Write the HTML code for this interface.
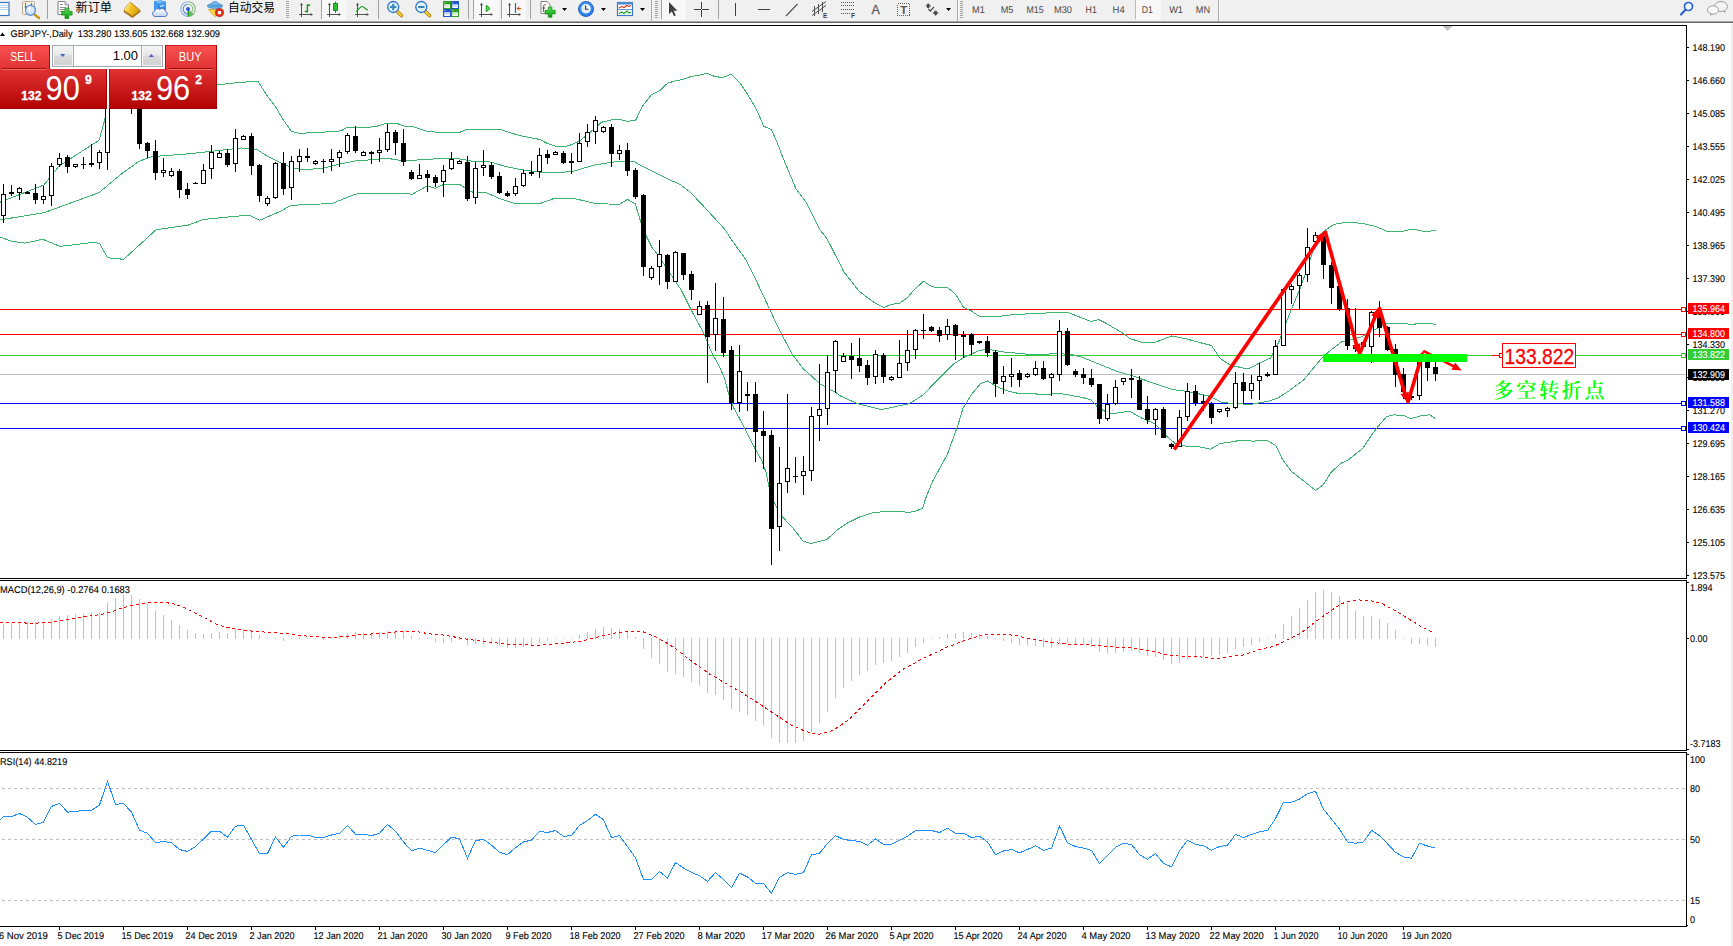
<!DOCTYPE html><html><head><meta charset="utf-8"><title>GBPJPY-,Daily</title>
<style>
html,body{margin:0;padding:0;background:#fff;overflow:hidden}
body{width:1733px;height:946px;position:relative;font-family:"Liberation Sans","Noto Sans CJK SC",sans-serif}
svg{position:absolute;left:0;top:0;display:block}
.ax{font-family:"Liberation Sans",sans-serif;font-size:9.85px;fill:#000;stroke:#000;stroke-width:0.1px;text-rendering:geometricPrecision}
.axw{font-family:"Liberation Sans",sans-serif;font-size:9.85px;fill:#fff;stroke:#fff;stroke-width:0.1px;text-rendering:geometricPrecision}
.tf{font-family:"Liberation Sans",sans-serif;font-size:9.85px;fill:#484848;text-rendering:geometricPrecision}
.cn{font-family:"Liberation Sans","Noto Sans CJK SC",sans-serif;font-size:12px;fill:#000}
</style></head><body>
<svg width="1733" height="946" viewBox="0 0 1733 946">
<rect x="0" y="0" width="1733" height="946" fill="#fff"/>
<rect x="0" y="0" width="1733" height="21" fill="#f0f0f0"/>
<rect x="0" y="21" width="1733" height="1" fill="#a4a4a4"/>
<rect x="0" y="22" width="1733" height="1" fill="#686868"/>
<rect x="1731" y="23" width="2" height="923" fill="#f0f0f0"/>
<g shape-rendering="crispEdges">
<rect x="0" y="25" width="1687" height="1" fill="#000"/>
<rect x="1686" y="25" width="1" height="554" fill="#000"/>
<rect x="0" y="578" width="1687" height="1" fill="#000"/>
<rect x="0" y="580" width="1687" height="1" fill="#000"/>
<rect x="1686" y="580" width="1" height="171" fill="#000"/>
<rect x="0" y="750" width="1687" height="1" fill="#000"/>
<rect x="0" y="752" width="1687" height="1" fill="#000"/>
<rect x="1686" y="752" width="1" height="175" fill="#000"/>
<rect x="0" y="926" width="1687" height="1" fill="#000"/>
<rect x="0" y="374" width="1686" height="1" fill="#c0c0c0"/>
<rect x="0" y="309" width="1686" height="1" fill="#ff0000"/>
<rect x="0" y="334" width="1686" height="1" fill="#ff0000"/>
<rect x="0" y="355" width="1686" height="1" fill="#32cd32"/>
<rect x="0" y="403" width="1686" height="1" fill="#0000ff"/>
<rect x="0" y="428" width="1686" height="1" fill="#0000ff"/>
</g>
<polyline points="0.0,202.2 43.8,185.1 59.0,166.1 91.3,145.2 99.0,140.4 104.6,120.4 107.0,108.0 115.0,80.0 140.0,70.0 217.0,85.0 239.0,82.4 258.0,81.4 263.5,90.0 266.5,95.0 275.8,107.1 282.0,118.0 291.3,131.2 299.1,133.3 319.0,132.4 340.7,130.9 346.8,127.7 374.5,126.9 387.5,123.1 396.2,123.1 404.8,126.4 413.5,126.9 427.4,131.6 443.0,132.4 460.3,132.1 466.4,129.5 486.3,129.1 500.2,129.5 519.3,135.5 540.1,139.5 547.0,143.3 555.7,146.3 566.1,146.3 570.4,145.1 579.1,141.3 589.5,132.9 601.6,122.2 615.5,119.1 620.0,119.4 627.6,121.5 635.7,120.1 642.7,105.8 651.4,94.8 659.5,90.9 667.7,83.1 675.8,80.8 684.0,79.1 690.9,76.5 700.2,75.0 707.2,73.3 714.8,76.5 722.9,77.6 731.0,74.2 739.8,82.6 747.9,94.8 753.7,104.7 759.0,115.1 763.6,126.2 771.2,129.4 777.0,141.9 782.0,155.5 795.8,188.4 806.2,202.3 820.1,230.0 827.0,238.7 837.4,259.1 840.0,264.0 843.5,271.5 850.5,280.2 858.6,290.7 866.7,297.1 874.9,302.9 884.0,307.6 891.2,304.3 899.3,303.3 907.4,297.7 914.4,289.5 923.5,281.2 931.3,286.4 936.5,287.4 947.0,287.4 952.2,291.3 956.3,295.3 963.3,307.0 971.4,311.0 979.5,316.5 998.1,316.5 1014.4,314.5 1056.8,312.5 1067.2,312.2 1079.3,316.9 1091.4,321.6 1098.4,319.5 1107.0,323.8 1124.4,334.2 1130.0,338.6 1143.9,342.9 1156.0,342.0 1171.6,336.0 1187.2,339.1 1199.4,342.5 1211.5,345.5 1220.2,358.5 1230.6,365.4 1247.9,368.9 1260.0,362.8 1270.5,358.0 1279.3,341.0 1287.2,319.6 1299.4,290.2 1306.3,271.1 1316.7,239.9 1323.6,231.2 1334.0,224.3 1347.9,222.0 1361.8,223.4 1375.7,226.4 1387.8,231.7 1403.4,231.2 1412.1,229.1 1425.9,231.7 1435.5,230.3" fill="none" stroke="#3cb371" stroke-width="1" shape-rendering="crispEdges" />
<polyline points="0.0,219.9 43.8,212.7 98.9,192.7 121.7,173.7 138.9,161.3 152.2,156.6 190.2,153.7 241.6,148.0 256.8,149.4 266.3,155.6 283.4,164.2 293.9,168.5 306.0,169.7 323.3,168.1 339.0,164.2 354.6,161.0 370.2,159.8 387.5,158.4 404.8,161.0 423.9,159.5 444.7,158.4 460.3,159.0 470.7,161.0 489.8,161.9 505.4,166.4 522.8,169.9 543.6,172.5 560.0,172.5 573.9,171.1 594.7,165.0 612.0,162.1 632.8,161.0 646.7,168.5 667.5,178.9 679.6,184.1 690.0,191.9 703.9,206.6 724.7,229.2 731.7,240.0 745.5,259.1 755.9,279.9 768.1,305.9 778.5,328.4 792.4,354.4 802.8,368.3 820.1,383.9 837.4,393.5 840.0,395.8 857.3,403.6 881.6,409.6 909.4,403.6 923.2,394.9 937.1,380.2 952.7,364.6 964.8,356.8 978.7,350.7 987.4,349.3 1003.0,351.9 1030.7,354.5 1056.8,353.8 1070.6,354.2 1082.8,357.6 1100.1,364.6 1117.4,371.5 1130.0,375.0 1147.3,381.0 1173.3,389.7 1187.2,391.4 1208.0,395.8 1221.9,402.4 1234.0,403.6 1251.4,404.4 1268.7,401.0 1277.4,398.4 1289.5,390.6 1303.4,380.2 1320.7,359.4 1331.1,349.8 1341.5,342.0 1360.6,337.2 1372.8,330.7 1386.6,323.3 1407.4,323.5 1409.5,324.9 1414.5,324.9 1416.0,323.5 1431.5,323.5 1435.5,324.9" fill="none" stroke="#3cb371" stroke-width="1" shape-rendering="crispEdges" />
<polyline points="0.0,237.0 11.4,241.2 24.7,243.1 42.8,239.3 59.9,246.4 95.1,242.2 99.9,244.1 107.5,257.8 123.7,259.3 156.0,229.8 188.3,225.1 203.5,219.4 249.2,215.0 259.7,220.3 280.0,211.5 291.3,205.3 332.0,203.5 354.6,194.5 359.8,193.6 408.3,193.6 411.8,194.5 427.4,185.8 435.2,188.4 443.9,184.4 459.5,184.4 470.7,191.9 486.3,192.8 500.2,198.8 514.1,203.5 540.1,203.5 554.0,198.5 575.6,198.8 594.7,203.5 619.0,204.4 627.6,199.4 635.4,204.0 640.6,221.4 646.7,237.0 651.9,247.4 657.1,253.9 667.5,269.5 681.4,290.3 691.8,311.1 703.9,333.6 710.9,351.0 719.5,366.6 724.7,378.7 729.1,395.6 733.4,407.3 743.8,426.4 752.5,443.8 762.0,461.1 766.3,473.2 768.9,487.1 774.3,503.0 782.0,516.5 792.0,527.0 803.0,541.0 811.2,543.6 827.2,539.3 837.2,530.0 847.4,523.0 859.5,517.0 875.1,512.1 902.9,511.6 908.1,512.6 915.9,511.2 922.8,508.1 925.4,499.1 932.4,481.7 947.5,454.0 957.9,425.3 963.1,407.9 971.8,394.0 980.5,383.6 987.4,381.0 996.1,386.2 1006.5,390.6 1018.6,393.5 1030.7,393.2 1042.9,394.9 1058.5,393.2 1082.8,397.5 1091.4,400.1 1098.4,407.9 1110.5,414.0 1127.8,411.4 1130.0,411.4 1142.1,418.3 1154.3,423.5 1168.1,437.4 1175.1,443.5 1185.5,446.1 1199.4,446.9 1210.6,449.2 1220.2,443.5 1230.0,442.2 1239.3,440.5 1247.4,440.7 1254.4,441.3 1256.7,440.5 1267.2,440.5 1275.9,445.5 1282.3,459.1 1291.6,471.5 1303.3,480.6 1315.7,490.5 1323.6,484.3 1330.6,473.0 1340.5,463.4 1347.4,460.6 1354.4,455.0 1362.6,448.6 1369.5,438.1 1376.2,428.7 1386.6,416.6 1393.6,414.8 1404.0,415.7 1410.9,418.7 1421.3,415.7 1430.0,414.8 1435.1,418.5" fill="none" stroke="#3cb371" stroke-width="1" shape-rendering="crispEdges" />
<g shape-rendering="crispEdges">
<rect x="3" y="184" width="1" height="39" fill="#000"/>
<rect x="1" y="194" width="5" height="22" fill="#000"/>
<rect x="2" y="195" width="3" height="20" fill="#fff"/>
<rect x="11" y="185" width="1" height="11" fill="#000"/>
<rect x="9" y="192" width="5" height="2" fill="#000"/>
<rect x="19" y="187" width="1" height="13" fill="#000"/>
<rect x="17" y="188" width="5" height="5" fill="#000"/>
<rect x="18" y="189" width="3" height="3" fill="#fff"/>
<rect x="27" y="191" width="1" height="3" fill="#000"/>
<rect x="25" y="192" width="5" height="2" fill="#000"/>
<rect x="35" y="184" width="1" height="20" fill="#000"/>
<rect x="33" y="193" width="5" height="7" fill="#000"/>
<rect x="43" y="186" width="1" height="18" fill="#000"/>
<rect x="41" y="196" width="5" height="4" fill="#000"/>
<rect x="42" y="197" width="3" height="2" fill="#fff"/>
<rect x="51" y="163" width="1" height="43" fill="#000"/>
<rect x="49" y="166" width="5" height="30" fill="#000"/>
<rect x="50" y="167" width="3" height="28" fill="#fff"/>
<rect x="59" y="153" width="1" height="14" fill="#000"/>
<rect x="57" y="158" width="5" height="7" fill="#000"/>
<rect x="58" y="159" width="3" height="5" fill="#fff"/>
<rect x="67" y="155" width="1" height="18" fill="#000"/>
<rect x="65" y="157" width="5" height="10" fill="#000"/>
<rect x="75" y="164" width="1" height="4" fill="#000"/>
<rect x="73" y="164" width="5" height="3" fill="#000"/>
<rect x="74" y="165" width="3" height="1" fill="#fff"/>
<rect x="83" y="157" width="1" height="12" fill="#000"/>
<rect x="81" y="164" width="5" height="1" fill="#000"/>
<rect x="91" y="144" width="1" height="23" fill="#000"/>
<rect x="89" y="163" width="5" height="2" fill="#000"/>
<rect x="99" y="150" width="1" height="19" fill="#000"/>
<rect x="97" y="152" width="5" height="11" fill="#000"/>
<rect x="98" y="153" width="3" height="9" fill="#fff"/>
<rect x="107" y="95" width="1" height="75" fill="#000"/>
<rect x="105" y="100" width="5" height="53" fill="#000"/>
<rect x="106" y="101" width="3" height="51" fill="#fff"/>
<rect x="115" y="55" width="1" height="49" fill="#000"/>
<rect x="113" y="60" width="5" height="40" fill="#000"/>
<rect x="114" y="61" width="3" height="38" fill="#fff"/>
<rect x="123" y="50" width="1" height="54" fill="#000"/>
<rect x="121" y="62" width="5" height="28" fill="#000"/>
<rect x="131" y="60" width="1" height="54" fill="#000"/>
<rect x="129" y="75" width="5" height="25" fill="#000"/>
<rect x="139" y="90" width="1" height="59" fill="#000"/>
<rect x="137" y="95" width="5" height="49" fill="#000"/>
<rect x="147" y="142" width="1" height="16" fill="#000"/>
<rect x="145" y="143" width="5" height="8" fill="#000"/>
<rect x="155" y="140" width="1" height="40" fill="#000"/>
<rect x="153" y="151" width="5" height="22" fill="#000"/>
<rect x="163" y="158" width="1" height="19" fill="#000"/>
<rect x="161" y="170" width="5" height="3" fill="#000"/>
<rect x="162" y="171" width="3" height="1" fill="#fff"/>
<rect x="171" y="168" width="1" height="9" fill="#000"/>
<rect x="169" y="171" width="5" height="5" fill="#000"/>
<rect x="170" y="172" width="3" height="3" fill="#fff"/>
<rect x="179" y="169" width="1" height="29" fill="#000"/>
<rect x="177" y="171" width="5" height="19" fill="#000"/>
<rect x="187" y="183" width="1" height="16" fill="#000"/>
<rect x="185" y="189" width="5" height="6" fill="#000"/>
<rect x="195" y="182" width="1" height="2" fill="#000"/>
<rect x="193" y="183" width="5" height="1" fill="#000"/>
<rect x="203" y="164" width="1" height="20" fill="#000"/>
<rect x="201" y="170" width="5" height="14" fill="#000"/>
<rect x="202" y="171" width="3" height="12" fill="#fff"/>
<rect x="211" y="145" width="1" height="34" fill="#000"/>
<rect x="209" y="152" width="5" height="17" fill="#000"/>
<rect x="210" y="153" width="3" height="15" fill="#fff"/>
<rect x="219" y="151" width="1" height="7" fill="#000"/>
<rect x="217" y="153" width="5" height="5" fill="#000"/>
<rect x="218" y="154" width="3" height="3" fill="#fff"/>
<rect x="227" y="149" width="1" height="18" fill="#000"/>
<rect x="225" y="153" width="5" height="12" fill="#000"/>
<rect x="235" y="129" width="1" height="43" fill="#000"/>
<rect x="233" y="138" width="5" height="26" fill="#000"/>
<rect x="234" y="139" width="3" height="24" fill="#fff"/>
<rect x="243" y="135" width="1" height="5" fill="#000"/>
<rect x="241" y="136" width="5" height="4" fill="#000"/>
<rect x="242" y="137" width="3" height="2" fill="#fff"/>
<rect x="251" y="133" width="1" height="42" fill="#000"/>
<rect x="249" y="136" width="5" height="30" fill="#000"/>
<rect x="259" y="164" width="1" height="38" fill="#000"/>
<rect x="257" y="165" width="5" height="31" fill="#000"/>
<rect x="267" y="196" width="1" height="10" fill="#000"/>
<rect x="265" y="198" width="5" height="6" fill="#000"/>
<rect x="266" y="199" width="3" height="4" fill="#fff"/>
<rect x="275" y="162" width="1" height="37" fill="#000"/>
<rect x="273" y="163" width="5" height="35" fill="#000"/>
<rect x="274" y="164" width="3" height="33" fill="#fff"/>
<rect x="283" y="152" width="1" height="43" fill="#000"/>
<rect x="281" y="163" width="5" height="26" fill="#000"/>
<rect x="291" y="156" width="1" height="44" fill="#000"/>
<rect x="289" y="161" width="5" height="27" fill="#000"/>
<rect x="290" y="162" width="3" height="25" fill="#fff"/>
<rect x="299" y="149" width="1" height="23" fill="#000"/>
<rect x="297" y="156" width="5" height="6" fill="#000"/>
<rect x="298" y="157" width="3" height="4" fill="#fff"/>
<rect x="307" y="148" width="1" height="14" fill="#000"/>
<rect x="305" y="156" width="5" height="2" fill="#000"/>
<rect x="315" y="160" width="1" height="5" fill="#000"/>
<rect x="313" y="161" width="5" height="3" fill="#000"/>
<rect x="314" y="162" width="3" height="1" fill="#fff"/>
<rect x="323" y="159" width="1" height="14" fill="#000"/>
<rect x="321" y="161" width="5" height="1" fill="#000"/>
<rect x="331" y="149" width="1" height="22" fill="#000"/>
<rect x="329" y="159" width="5" height="3" fill="#000"/>
<rect x="330" y="160" width="3" height="1" fill="#fff"/>
<rect x="339" y="150" width="1" height="17" fill="#000"/>
<rect x="337" y="152" width="5" height="6" fill="#000"/>
<rect x="338" y="153" width="3" height="4" fill="#fff"/>
<rect x="347" y="133" width="1" height="21" fill="#000"/>
<rect x="345" y="135" width="5" height="17" fill="#000"/>
<rect x="346" y="136" width="3" height="15" fill="#fff"/>
<rect x="355" y="126" width="1" height="27" fill="#000"/>
<rect x="353" y="136" width="5" height="15" fill="#000"/>
<rect x="363" y="151" width="1" height="5" fill="#000"/>
<rect x="361" y="152" width="5" height="4" fill="#000"/>
<rect x="362" y="153" width="3" height="2" fill="#fff"/>
<rect x="371" y="151" width="1" height="13" fill="#000"/>
<rect x="369" y="152" width="5" height="2" fill="#000"/>
<rect x="379" y="138" width="1" height="24" fill="#000"/>
<rect x="377" y="150" width="5" height="3" fill="#000"/>
<rect x="378" y="151" width="3" height="1" fill="#fff"/>
<rect x="387" y="124" width="1" height="28" fill="#000"/>
<rect x="385" y="132" width="5" height="18" fill="#000"/>
<rect x="386" y="133" width="3" height="16" fill="#fff"/>
<rect x="395" y="130" width="1" height="25" fill="#000"/>
<rect x="393" y="132" width="5" height="11" fill="#000"/>
<rect x="403" y="129" width="1" height="37" fill="#000"/>
<rect x="401" y="143" width="5" height="19" fill="#000"/>
<rect x="411" y="170" width="1" height="10" fill="#000"/>
<rect x="409" y="172" width="5" height="7" fill="#000"/>
<rect x="419" y="164" width="1" height="15" fill="#000"/>
<rect x="417" y="175" width="5" height="4" fill="#000"/>
<rect x="418" y="176" width="3" height="2" fill="#fff"/>
<rect x="427" y="170" width="1" height="22" fill="#000"/>
<rect x="425" y="174" width="5" height="4" fill="#000"/>
<rect x="435" y="175" width="1" height="12" fill="#000"/>
<rect x="433" y="177" width="5" height="6" fill="#000"/>
<rect x="443" y="165" width="1" height="32" fill="#000"/>
<rect x="441" y="170" width="5" height="12" fill="#000"/>
<rect x="442" y="171" width="3" height="10" fill="#fff"/>
<rect x="451" y="152" width="1" height="18" fill="#000"/>
<rect x="449" y="159" width="5" height="10" fill="#000"/>
<rect x="450" y="160" width="3" height="8" fill="#fff"/>
<rect x="459" y="160" width="1" height="4" fill="#000"/>
<rect x="457" y="161" width="5" height="3" fill="#000"/>
<rect x="458" y="162" width="3" height="1" fill="#fff"/>
<rect x="467" y="156" width="1" height="45" fill="#000"/>
<rect x="465" y="162" width="5" height="37" fill="#000"/>
<rect x="475" y="162" width="1" height="42" fill="#000"/>
<rect x="473" y="168" width="5" height="30" fill="#000"/>
<rect x="474" y="169" width="3" height="28" fill="#fff"/>
<rect x="483" y="150" width="1" height="26" fill="#000"/>
<rect x="481" y="165" width="5" height="3" fill="#000"/>
<rect x="482" y="166" width="3" height="1" fill="#fff"/>
<rect x="491" y="162" width="1" height="17" fill="#000"/>
<rect x="489" y="165" width="5" height="12" fill="#000"/>
<rect x="499" y="172" width="1" height="22" fill="#000"/>
<rect x="497" y="176" width="5" height="17" fill="#000"/>
<rect x="507" y="191" width="1" height="6" fill="#000"/>
<rect x="505" y="193" width="5" height="3" fill="#000"/>
<rect x="515" y="178" width="1" height="18" fill="#000"/>
<rect x="513" y="186" width="5" height="8" fill="#000"/>
<rect x="514" y="187" width="3" height="6" fill="#fff"/>
<rect x="523" y="170" width="1" height="17" fill="#000"/>
<rect x="521" y="173" width="5" height="13" fill="#000"/>
<rect x="522" y="174" width="3" height="11" fill="#fff"/>
<rect x="531" y="161" width="1" height="15" fill="#000"/>
<rect x="529" y="172" width="5" height="2" fill="#000"/>
<rect x="539" y="148" width="1" height="30" fill="#000"/>
<rect x="537" y="155" width="5" height="17" fill="#000"/>
<rect x="538" y="156" width="3" height="15" fill="#fff"/>
<rect x="547" y="150" width="1" height="14" fill="#000"/>
<rect x="545" y="154" width="5" height="4" fill="#000"/>
<rect x="555" y="151" width="1" height="4" fill="#000"/>
<rect x="553" y="152" width="5" height="3" fill="#000"/>
<rect x="554" y="153" width="3" height="1" fill="#fff"/>
<rect x="563" y="151" width="1" height="13" fill="#000"/>
<rect x="561" y="153" width="5" height="10" fill="#000"/>
<rect x="571" y="153" width="1" height="21" fill="#000"/>
<rect x="569" y="161" width="5" height="2" fill="#000"/>
<rect x="579" y="133" width="1" height="29" fill="#000"/>
<rect x="577" y="143" width="5" height="19" fill="#000"/>
<rect x="578" y="144" width="3" height="17" fill="#fff"/>
<rect x="587" y="124" width="1" height="23" fill="#000"/>
<rect x="585" y="132" width="5" height="10" fill="#000"/>
<rect x="586" y="133" width="3" height="8" fill="#fff"/>
<rect x="595" y="116" width="1" height="28" fill="#000"/>
<rect x="593" y="120" width="5" height="12" fill="#000"/>
<rect x="594" y="121" width="3" height="10" fill="#fff"/>
<rect x="603" y="126" width="1" height="7" fill="#000"/>
<rect x="601" y="127" width="5" height="5" fill="#000"/>
<rect x="602" y="128" width="3" height="3" fill="#fff"/>
<rect x="611" y="124" width="1" height="43" fill="#000"/>
<rect x="609" y="127" width="5" height="27" fill="#000"/>
<rect x="619" y="145" width="1" height="15" fill="#000"/>
<rect x="617" y="150" width="5" height="4" fill="#000"/>
<rect x="618" y="151" width="3" height="2" fill="#fff"/>
<rect x="627" y="143" width="1" height="33" fill="#000"/>
<rect x="625" y="150" width="5" height="21" fill="#000"/>
<rect x="635" y="168" width="1" height="31" fill="#000"/>
<rect x="633" y="170" width="5" height="27" fill="#000"/>
<rect x="643" y="194" width="1" height="82" fill="#000"/>
<rect x="641" y="195" width="5" height="72" fill="#000"/>
<rect x="651" y="266" width="1" height="14" fill="#000"/>
<rect x="649" y="268" width="5" height="10" fill="#000"/>
<rect x="650" y="269" width="3" height="8" fill="#fff"/>
<rect x="659" y="240" width="1" height="45" fill="#000"/>
<rect x="657" y="254" width="5" height="13" fill="#000"/>
<rect x="658" y="255" width="3" height="11" fill="#fff"/>
<rect x="667" y="254" width="1" height="35" fill="#000"/>
<rect x="665" y="255" width="5" height="27" fill="#000"/>
<rect x="675" y="251" width="1" height="31" fill="#000"/>
<rect x="673" y="252" width="5" height="30" fill="#000"/>
<rect x="674" y="253" width="3" height="28" fill="#fff"/>
<rect x="683" y="253" width="1" height="27" fill="#000"/>
<rect x="681" y="253" width="5" height="22" fill="#000"/>
<rect x="691" y="271" width="1" height="29" fill="#000"/>
<rect x="689" y="274" width="5" height="16" fill="#000"/>
<rect x="699" y="301" width="1" height="14" fill="#000"/>
<rect x="697" y="306" width="5" height="9" fill="#000"/>
<rect x="698" y="307" width="3" height="7" fill="#fff"/>
<rect x="707" y="301" width="1" height="82" fill="#000"/>
<rect x="705" y="305" width="5" height="32" fill="#000"/>
<rect x="715" y="283" width="1" height="68" fill="#000"/>
<rect x="713" y="318" width="5" height="17" fill="#000"/>
<rect x="714" y="319" width="3" height="15" fill="#fff"/>
<rect x="723" y="297" width="1" height="60" fill="#000"/>
<rect x="721" y="319" width="5" height="34" fill="#000"/>
<rect x="731" y="346" width="1" height="64" fill="#000"/>
<rect x="729" y="350" width="5" height="53" fill="#000"/>
<rect x="739" y="345" width="1" height="67" fill="#000"/>
<rect x="737" y="371" width="5" height="32" fill="#000"/>
<rect x="738" y="372" width="3" height="30" fill="#fff"/>
<rect x="747" y="382" width="1" height="29" fill="#000"/>
<rect x="745" y="394" width="5" height="2" fill="#000"/>
<rect x="755" y="382" width="1" height="80" fill="#000"/>
<rect x="753" y="394" width="5" height="38" fill="#000"/>
<rect x="763" y="411" width="1" height="58" fill="#000"/>
<rect x="761" y="431" width="5" height="5" fill="#000"/>
<rect x="771" y="430" width="1" height="135" fill="#000"/>
<rect x="769" y="435" width="5" height="94" fill="#000"/>
<rect x="779" y="447" width="1" height="104" fill="#000"/>
<rect x="777" y="483" width="5" height="44" fill="#000"/>
<rect x="778" y="484" width="3" height="42" fill="#fff"/>
<rect x="787" y="394" width="1" height="99" fill="#000"/>
<rect x="785" y="468" width="5" height="14" fill="#000"/>
<rect x="786" y="469" width="3" height="12" fill="#fff"/>
<rect x="795" y="457" width="1" height="26" fill="#000"/>
<rect x="793" y="476" width="5" height="1" fill="#000"/>
<rect x="803" y="456" width="1" height="39" fill="#000"/>
<rect x="801" y="471" width="5" height="5" fill="#000"/>
<rect x="802" y="472" width="3" height="3" fill="#fff"/>
<rect x="811" y="407" width="1" height="74" fill="#000"/>
<rect x="809" y="416" width="5" height="55" fill="#000"/>
<rect x="810" y="417" width="3" height="53" fill="#fff"/>
<rect x="819" y="364" width="1" height="77" fill="#000"/>
<rect x="817" y="409" width="5" height="7" fill="#000"/>
<rect x="818" y="410" width="3" height="5" fill="#fff"/>
<rect x="827" y="355" width="1" height="70" fill="#000"/>
<rect x="825" y="372" width="5" height="37" fill="#000"/>
<rect x="826" y="373" width="3" height="35" fill="#fff"/>
<rect x="835" y="340" width="1" height="53" fill="#000"/>
<rect x="833" y="341" width="5" height="30" fill="#000"/>
<rect x="834" y="342" width="3" height="28" fill="#fff"/>
<rect x="843" y="353" width="1" height="9" fill="#000"/>
<rect x="841" y="356" width="5" height="6" fill="#000"/>
<rect x="842" y="357" width="3" height="4" fill="#fff"/>
<rect x="851" y="343" width="1" height="36" fill="#000"/>
<rect x="849" y="356" width="5" height="4" fill="#000"/>
<rect x="859" y="338" width="1" height="34" fill="#000"/>
<rect x="857" y="358" width="5" height="8" fill="#000"/>
<rect x="867" y="360" width="1" height="25" fill="#000"/>
<rect x="865" y="365" width="5" height="13" fill="#000"/>
<rect x="875" y="350" width="1" height="34" fill="#000"/>
<rect x="873" y="354" width="5" height="23" fill="#000"/>
<rect x="874" y="355" width="3" height="21" fill="#fff"/>
<rect x="883" y="353" width="1" height="30" fill="#000"/>
<rect x="881" y="355" width="5" height="22" fill="#000"/>
<rect x="891" y="376" width="1" height="5" fill="#000"/>
<rect x="889" y="377" width="5" height="3" fill="#000"/>
<rect x="890" y="378" width="3" height="1" fill="#fff"/>
<rect x="899" y="340" width="1" height="38" fill="#000"/>
<rect x="897" y="363" width="5" height="15" fill="#000"/>
<rect x="898" y="364" width="3" height="13" fill="#fff"/>
<rect x="907" y="330" width="1" height="41" fill="#000"/>
<rect x="905" y="350" width="5" height="13" fill="#000"/>
<rect x="906" y="351" width="3" height="11" fill="#fff"/>
<rect x="915" y="329" width="1" height="30" fill="#000"/>
<rect x="913" y="330" width="5" height="20" fill="#000"/>
<rect x="914" y="331" width="3" height="18" fill="#fff"/>
<rect x="923" y="314" width="1" height="25" fill="#000"/>
<rect x="921" y="330" width="5" height="1" fill="#000"/>
<rect x="931" y="326" width="1" height="6" fill="#000"/>
<rect x="929" y="327" width="5" height="4" fill="#000"/>
<rect x="939" y="327" width="1" height="15" fill="#000"/>
<rect x="937" y="330" width="5" height="6" fill="#000"/>
<rect x="947" y="319" width="1" height="21" fill="#000"/>
<rect x="945" y="326" width="5" height="9" fill="#000"/>
<rect x="946" y="327" width="3" height="7" fill="#fff"/>
<rect x="955" y="324" width="1" height="36" fill="#000"/>
<rect x="953" y="325" width="5" height="11" fill="#000"/>
<rect x="963" y="331" width="1" height="27" fill="#000"/>
<rect x="961" y="335" width="5" height="2" fill="#000"/>
<rect x="971" y="333" width="1" height="22" fill="#000"/>
<rect x="969" y="334" width="5" height="11" fill="#000"/>
<rect x="979" y="341" width="1" height="3" fill="#000"/>
<rect x="977" y="341" width="5" height="2" fill="#000"/>
<rect x="987" y="336" width="1" height="21" fill="#000"/>
<rect x="985" y="341" width="5" height="12" fill="#000"/>
<rect x="995" y="350" width="1" height="47" fill="#000"/>
<rect x="993" y="352" width="5" height="32" fill="#000"/>
<rect x="1003" y="366" width="1" height="28" fill="#000"/>
<rect x="1001" y="376" width="5" height="6" fill="#000"/>
<rect x="1002" y="377" width="3" height="4" fill="#fff"/>
<rect x="1011" y="358" width="1" height="29" fill="#000"/>
<rect x="1009" y="374" width="5" height="3" fill="#000"/>
<rect x="1010" y="375" width="3" height="1" fill="#fff"/>
<rect x="1019" y="370" width="1" height="17" fill="#000"/>
<rect x="1017" y="373" width="5" height="7" fill="#000"/>
<rect x="1027" y="373" width="1" height="5" fill="#000"/>
<rect x="1025" y="374" width="5" height="3" fill="#000"/>
<rect x="1026" y="375" width="3" height="1" fill="#fff"/>
<rect x="1035" y="361" width="1" height="15" fill="#000"/>
<rect x="1033" y="368" width="5" height="7" fill="#000"/>
<rect x="1034" y="369" width="3" height="5" fill="#fff"/>
<rect x="1043" y="361" width="1" height="19" fill="#000"/>
<rect x="1041" y="368" width="5" height="11" fill="#000"/>
<rect x="1051" y="373" width="1" height="23" fill="#000"/>
<rect x="1049" y="374" width="5" height="4" fill="#000"/>
<rect x="1050" y="375" width="3" height="2" fill="#fff"/>
<rect x="1059" y="320" width="1" height="61" fill="#000"/>
<rect x="1057" y="331" width="5" height="44" fill="#000"/>
<rect x="1058" y="332" width="3" height="42" fill="#fff"/>
<rect x="1067" y="328" width="1" height="38" fill="#000"/>
<rect x="1065" y="331" width="5" height="34" fill="#000"/>
<rect x="1075" y="369" width="1" height="8" fill="#000"/>
<rect x="1073" y="371" width="5" height="4" fill="#000"/>
<rect x="1083" y="368" width="1" height="16" fill="#000"/>
<rect x="1081" y="374" width="5" height="4" fill="#000"/>
<rect x="1091" y="369" width="1" height="18" fill="#000"/>
<rect x="1089" y="378" width="5" height="7" fill="#000"/>
<rect x="1099" y="384" width="1" height="40" fill="#000"/>
<rect x="1097" y="384" width="5" height="35" fill="#000"/>
<rect x="1107" y="394" width="1" height="27" fill="#000"/>
<rect x="1105" y="404" width="5" height="15" fill="#000"/>
<rect x="1106" y="405" width="3" height="13" fill="#fff"/>
<rect x="1115" y="380" width="1" height="25" fill="#000"/>
<rect x="1113" y="387" width="5" height="17" fill="#000"/>
<rect x="1114" y="388" width="3" height="15" fill="#fff"/>
<rect x="1123" y="378" width="1" height="7" fill="#000"/>
<rect x="1121" y="378" width="5" height="4" fill="#000"/>
<rect x="1122" y="379" width="3" height="2" fill="#fff"/>
<rect x="1131" y="369" width="1" height="29" fill="#000"/>
<rect x="1129" y="378" width="5" height="2" fill="#000"/>
<rect x="1139" y="376" width="1" height="34" fill="#000"/>
<rect x="1137" y="380" width="5" height="30" fill="#000"/>
<rect x="1147" y="396" width="1" height="28" fill="#000"/>
<rect x="1145" y="409" width="5" height="11" fill="#000"/>
<rect x="1155" y="408" width="1" height="27" fill="#000"/>
<rect x="1153" y="409" width="5" height="11" fill="#000"/>
<rect x="1154" y="410" width="3" height="9" fill="#fff"/>
<rect x="1163" y="407" width="1" height="31" fill="#000"/>
<rect x="1161" y="409" width="5" height="29" fill="#000"/>
<rect x="1171" y="443" width="1" height="6" fill="#000"/>
<rect x="1169" y="444" width="5" height="3" fill="#000"/>
<rect x="1179" y="410" width="1" height="37" fill="#000"/>
<rect x="1177" y="417" width="5" height="30" fill="#000"/>
<rect x="1178" y="418" width="3" height="28" fill="#fff"/>
<rect x="1187" y="383" width="1" height="38" fill="#000"/>
<rect x="1185" y="391" width="5" height="26" fill="#000"/>
<rect x="1186" y="392" width="3" height="24" fill="#fff"/>
<rect x="1195" y="385" width="1" height="21" fill="#000"/>
<rect x="1193" y="391" width="5" height="12" fill="#000"/>
<rect x="1203" y="395" width="1" height="16" fill="#000"/>
<rect x="1201" y="401" width="5" height="3" fill="#000"/>
<rect x="1211" y="402" width="1" height="22" fill="#000"/>
<rect x="1209" y="404" width="5" height="14" fill="#000"/>
<rect x="1219" y="409" width="1" height="4" fill="#000"/>
<rect x="1217" y="409" width="5" height="3" fill="#000"/>
<rect x="1218" y="410" width="3" height="1" fill="#fff"/>
<rect x="1227" y="407" width="1" height="10" fill="#000"/>
<rect x="1225" y="408" width="5" height="3" fill="#000"/>
<rect x="1226" y="409" width="3" height="1" fill="#fff"/>
<rect x="1235" y="372" width="1" height="37" fill="#000"/>
<rect x="1233" y="383" width="5" height="25" fill="#000"/>
<rect x="1234" y="384" width="3" height="23" fill="#fff"/>
<rect x="1243" y="373" width="1" height="31" fill="#000"/>
<rect x="1241" y="382" width="5" height="9" fill="#000"/>
<rect x="1251" y="375" width="1" height="24" fill="#000"/>
<rect x="1249" y="383" width="5" height="8" fill="#000"/>
<rect x="1250" y="384" width="3" height="6" fill="#fff"/>
<rect x="1259" y="363" width="1" height="37" fill="#000"/>
<rect x="1257" y="376" width="5" height="5" fill="#000"/>
<rect x="1258" y="377" width="3" height="3" fill="#fff"/>
<rect x="1267" y="372" width="1" height="5" fill="#000"/>
<rect x="1265" y="374" width="5" height="2" fill="#000"/>
<rect x="1275" y="340" width="1" height="35" fill="#000"/>
<rect x="1273" y="346" width="5" height="29" fill="#000"/>
<rect x="1274" y="347" width="3" height="27" fill="#fff"/>
<rect x="1283" y="288" width="1" height="58" fill="#000"/>
<rect x="1281" y="289" width="5" height="57" fill="#000"/>
<rect x="1282" y="290" width="3" height="55" fill="#fff"/>
<rect x="1291" y="284" width="1" height="20" fill="#000"/>
<rect x="1289" y="286" width="5" height="4" fill="#000"/>
<rect x="1290" y="287" width="3" height="2" fill="#fff"/>
<rect x="1299" y="273" width="1" height="37" fill="#000"/>
<rect x="1297" y="275" width="5" height="11" fill="#000"/>
<rect x="1298" y="276" width="3" height="9" fill="#fff"/>
<rect x="1307" y="228" width="1" height="54" fill="#000"/>
<rect x="1305" y="247" width="5" height="28" fill="#000"/>
<rect x="1306" y="248" width="3" height="26" fill="#fff"/>
<rect x="1315" y="232" width="1" height="10" fill="#000"/>
<rect x="1313" y="235" width="5" height="7" fill="#000"/>
<rect x="1314" y="236" width="3" height="5" fill="#fff"/>
<rect x="1323" y="234" width="1" height="45" fill="#000"/>
<rect x="1321" y="236" width="5" height="29" fill="#000"/>
<rect x="1331" y="262" width="1" height="42" fill="#000"/>
<rect x="1329" y="265" width="5" height="23" fill="#000"/>
<rect x="1339" y="285" width="1" height="26" fill="#000"/>
<rect x="1337" y="286" width="5" height="23" fill="#000"/>
<rect x="1347" y="299" width="1" height="51" fill="#000"/>
<rect x="1345" y="308" width="5" height="38" fill="#000"/>
<rect x="1355" y="308" width="1" height="44" fill="#000"/>
<rect x="1353" y="345" width="5" height="4" fill="#000"/>
<rect x="1363" y="341" width="1" height="7" fill="#000"/>
<rect x="1361" y="342" width="5" height="5" fill="#000"/>
<rect x="1371" y="311" width="1" height="52" fill="#000"/>
<rect x="1369" y="312" width="5" height="35" fill="#000"/>
<rect x="1370" y="313" width="3" height="33" fill="#fff"/>
<rect x="1379" y="301" width="1" height="36" fill="#000"/>
<rect x="1377" y="314" width="5" height="14" fill="#000"/>
<rect x="1387" y="326" width="1" height="25" fill="#000"/>
<rect x="1385" y="327" width="5" height="23" fill="#000"/>
<rect x="1395" y="344" width="1" height="43" fill="#000"/>
<rect x="1393" y="349" width="5" height="26" fill="#000"/>
<rect x="1403" y="368" width="1" height="31" fill="#000"/>
<rect x="1401" y="374" width="5" height="18" fill="#000"/>
<rect x="1411" y="395" width="1" height="5" fill="#000"/>
<rect x="1409" y="396" width="5" height="2" fill="#000"/>
<rect x="1419" y="358" width="1" height="42" fill="#000"/>
<rect x="1417" y="358" width="5" height="38" fill="#000"/>
<rect x="1418" y="359" width="3" height="36" fill="#fff"/>
<rect x="1427" y="353" width="1" height="28" fill="#000"/>
<rect x="1425" y="358" width="5" height="10" fill="#000"/>
<rect x="1435" y="356" width="1" height="25" fill="#000"/>
<rect x="1433" y="367" width="5" height="7" fill="#000"/>
</g>
<line x1="1174.2" y1="449.5" x2="1322.2" y2="235.1" stroke="#ff0000" stroke-width="3.7"/>
<polygon points="1325.0,231.0 1322.6,242.1 1315.5,237.2" fill="#ff0000"/>
<line x1="1325.0" y1="231.0" x2="1357.9" y2="349.8" stroke="#ff0000" stroke-width="3.7"/>
<polygon points="1359.2,354.6 1352.3,345.6 1360.5,343.3" fill="#ff0000"/>
<line x1="1359.2" y1="354.6" x2="1377.2" y2="311.9" stroke="#ff0000" stroke-width="3.7"/>
<polygon points="1379.1,307.3 1379.0,318.6 1371.1,315.3" fill="#ff0000"/>
<line x1="1379.1" y1="307.3" x2="1406.3" y2="398.2" stroke="#ff0000" stroke-width="3.7"/>
<polygon points="1407.7,403.0 1400.6,394.2 1408.8,391.7" fill="#ff0000"/>
<line x1="1407.7" y1="403.0" x2="1422.4" y2="353.7" stroke="#ff0000" stroke-width="3.7"/>
<polygon points="1423.3,350.8 1424.3,357.4 1418.9,355.7" fill="#ff0000"/>
<line x1="1423.3" y1="350.8" x2="1457.3" y2="368.1" stroke="#ff0000" stroke-width="2.6"/>
<polygon points="1461.8,370.4 1451.5,369.7 1455.1,362.5" fill="#ff0000"/>
<rect x="1323" y="354" width="144" height="8" fill="#00ff00" shape-rendering="crispEdges"/>
<g shape-rendering="crispEdges"><rect x="1492" y="355" width="8" height="1" fill="#ff0000"/><rect x="1499.5" y="353.5" width="3" height="4" fill="#fff" stroke="#ff0000" stroke-width="1"/>
<rect x="1502.5" y="343.5" width="73" height="24" fill="#fff" stroke="#ff0000" stroke-width="1"/></g>
<text x="1504.6" y="363.9" textLength="69.6" lengthAdjust="spacingAndGlyphs" style="font-family:'Liberation Sans',sans-serif;font-size:22.3px;fill:#ff0000;stroke:#ff0000;stroke-width:0.3">133.822</text>
<text x="1493.5" y="397.5" textLength="111" lengthAdjust="spacing" style="font-family:'Liberation Serif','Noto Serif CJK SC','Noto Sans CJK SC',serif;font-size:20px;font-weight:600;fill:#00ff00">多空转折点</text>
<g shape-rendering="crispEdges">
<rect x="1681.5" y="307.5" width="4" height="4" fill="#fff" stroke="#ff0000" stroke-width="1"/>
<rect x="1681.5" y="332.5" width="4" height="4" fill="#fff" stroke="#ff0000" stroke-width="1"/>
<rect x="1681.5" y="353.5" width="4" height="4" fill="#fff" stroke="#32cd32" stroke-width="1"/>
<rect x="1681.5" y="401.5" width="4" height="4" fill="#fff" stroke="#0000ff" stroke-width="1"/>
<rect x="1681.5" y="426.5" width="4" height="4" fill="#fff" stroke="#0000ff" stroke-width="1"/>
</g>
<g shape-rendering="crispEdges">
<rect x="1687" y="47" width="2" height="1" fill="#000"/>
<rect x="1687" y="80" width="2" height="1" fill="#000"/>
<rect x="1687" y="113" width="2" height="1" fill="#000"/>
<rect x="1687" y="146" width="2" height="1" fill="#000"/>
<rect x="1687" y="179" width="2" height="1" fill="#000"/>
<rect x="1687" y="212" width="2" height="1" fill="#000"/>
<rect x="1687" y="245" width="2" height="1" fill="#000"/>
<rect x="1687" y="278" width="2" height="1" fill="#000"/>
<rect x="1687" y="311" width="2" height="1" fill="#000"/>
<rect x="1687" y="344" width="2" height="1" fill="#000"/>
<rect x="1687" y="377" width="2" height="1" fill="#000"/>
<rect x="1687" y="410" width="2" height="1" fill="#000"/>
<rect x="1687" y="443" width="2" height="1" fill="#000"/>
<rect x="1687" y="476" width="2" height="1" fill="#000"/>
<rect x="1687" y="509" width="2" height="1" fill="#000"/>
<rect x="1687" y="542" width="2" height="1" fill="#000"/>
<rect x="1687" y="575" width="2" height="1" fill="#000"/>
</g>
<text class="ax" x="1692.6" y="51" textLength="32.4" lengthAdjust="spacingAndGlyphs">148.190</text>
<text class="ax" x="1692.6" y="84" textLength="32.4" lengthAdjust="spacingAndGlyphs">146.660</text>
<text class="ax" x="1692.6" y="117" textLength="32.4" lengthAdjust="spacingAndGlyphs">145.085</text>
<text class="ax" x="1692.6" y="150" textLength="32.4" lengthAdjust="spacingAndGlyphs">143.555</text>
<text class="ax" x="1692.6" y="183" textLength="32.4" lengthAdjust="spacingAndGlyphs">142.025</text>
<text class="ax" x="1692.6" y="216" textLength="32.4" lengthAdjust="spacingAndGlyphs">140.495</text>
<text class="ax" x="1692.6" y="249" textLength="32.4" lengthAdjust="spacingAndGlyphs">138.965</text>
<text class="ax" x="1692.6" y="282" textLength="32.4" lengthAdjust="spacingAndGlyphs">137.390</text>
<text class="ax" x="1692.6" y="315" textLength="32.4" lengthAdjust="spacingAndGlyphs">135.860</text>
<text class="ax" x="1692.6" y="348" textLength="32.4" lengthAdjust="spacingAndGlyphs">134.330</text>
<text class="ax" x="1692.6" y="381" textLength="32.4" lengthAdjust="spacingAndGlyphs">132.800</text>
<text class="ax" x="1692.6" y="414" textLength="32.4" lengthAdjust="spacingAndGlyphs">131.270</text>
<text class="ax" x="1692.6" y="447" textLength="32.4" lengthAdjust="spacingAndGlyphs">129.695</text>
<text class="ax" x="1692.6" y="480" textLength="32.4" lengthAdjust="spacingAndGlyphs">128.165</text>
<text class="ax" x="1692.6" y="513" textLength="32.4" lengthAdjust="spacingAndGlyphs">126.635</text>
<text class="ax" x="1692.6" y="546" textLength="32.4" lengthAdjust="spacingAndGlyphs">125.105</text>
<text class="ax" x="1692.6" y="579" textLength="32.4" lengthAdjust="spacingAndGlyphs">123.575</text>
<rect x="1688" y="303" width="41" height="11" fill="#ff0000" shape-rendering="crispEdges"/>
<text class="axw" x="1692.6" y="312" textLength="32.3" lengthAdjust="spacingAndGlyphs">135.964</text>
<rect x="1688" y="328" width="41" height="11" fill="#ff0000" shape-rendering="crispEdges"/>
<text class="axw" x="1692.6" y="337" textLength="32.3" lengthAdjust="spacingAndGlyphs">134.800</text>
<rect x="1688" y="349" width="41" height="11" fill="#32cd32" shape-rendering="crispEdges"/>
<text class="axw" x="1692.6" y="358" textLength="32.3" lengthAdjust="spacingAndGlyphs">133.822</text>
<rect x="1688" y="369" width="41" height="11" fill="#000" shape-rendering="crispEdges"/>
<text class="axw" x="1692.6" y="378" textLength="32.3" lengthAdjust="spacingAndGlyphs">132.909</text>
<rect x="1688" y="397" width="41" height="11" fill="#0000ff" shape-rendering="crispEdges"/>
<text class="axw" x="1692.6" y="406" textLength="32.3" lengthAdjust="spacingAndGlyphs">131.588</text>
<rect x="1688" y="422" width="41" height="11" fill="#0000ff" shape-rendering="crispEdges"/>
<text class="axw" x="1692.6" y="431" textLength="32.3" lengthAdjust="spacingAndGlyphs">130.424</text>
<g shape-rendering="crispEdges">
<rect x="3" y="624" width="1" height="15" fill="#c0c0c0"/>
<rect x="11" y="623" width="1" height="16" fill="#c0c0c0"/>
<rect x="19" y="622" width="1" height="17" fill="#c0c0c0"/>
<rect x="27" y="622" width="1" height="17" fill="#c0c0c0"/>
<rect x="35" y="622" width="1" height="17" fill="#c0c0c0"/>
<rect x="43" y="622" width="1" height="17" fill="#c0c0c0"/>
<rect x="51" y="619" width="1" height="20" fill="#c0c0c0"/>
<rect x="59" y="616" width="1" height="23" fill="#c0c0c0"/>
<rect x="67" y="615" width="1" height="24" fill="#c0c0c0"/>
<rect x="75" y="614" width="1" height="25" fill="#c0c0c0"/>
<rect x="83" y="614" width="1" height="25" fill="#c0c0c0"/>
<rect x="91" y="613" width="1" height="26" fill="#c0c0c0"/>
<rect x="99" y="612" width="1" height="27" fill="#c0c0c0"/>
<rect x="107" y="602" width="1" height="37" fill="#c0c0c0"/>
<rect x="115" y="598" width="1" height="41" fill="#c0c0c0"/>
<rect x="123" y="595" width="1" height="44" fill="#c0c0c0"/>
<rect x="131" y="595" width="1" height="44" fill="#c0c0c0"/>
<rect x="139" y="599" width="1" height="40" fill="#c0c0c0"/>
<rect x="147" y="603" width="1" height="36" fill="#c0c0c0"/>
<rect x="155" y="610" width="1" height="29" fill="#c0c0c0"/>
<rect x="163" y="615" width="1" height="24" fill="#c0c0c0"/>
<rect x="171" y="620" width="1" height="19" fill="#c0c0c0"/>
<rect x="179" y="625" width="1" height="14" fill="#c0c0c0"/>
<rect x="187" y="630" width="1" height="9" fill="#c0c0c0"/>
<rect x="195" y="633" width="1" height="6" fill="#c0c0c0"/>
<rect x="203" y="634" width="1" height="5" fill="#c0c0c0"/>
<rect x="211" y="633" width="1" height="6" fill="#c0c0c0"/>
<rect x="219" y="632" width="1" height="7" fill="#c0c0c0"/>
<rect x="227" y="633" width="1" height="6" fill="#c0c0c0"/>
<rect x="235" y="629" width="1" height="10" fill="#c0c0c0"/>
<rect x="243" y="629" width="1" height="10" fill="#c0c0c0"/>
<rect x="251" y="630" width="1" height="9" fill="#c0c0c0"/>
<rect x="259" y="635" width="1" height="4" fill="#c0c0c0"/>
<rect x="267" y="638" width="1" height="1" fill="#c0c0c0"/>
<rect x="275" y="638" width="1" height="1" fill="#c0c0c0"/>
<rect x="283" y="638" width="1" height="3" fill="#c0c0c0"/>
<rect x="291" y="638" width="1" height="1" fill="#c0c0c0"/>
<rect x="299" y="637" width="1" height="2" fill="#c0c0c0"/>
<rect x="307" y="638" width="1" height="1" fill="#c0c0c0"/>
<rect x="315" y="638" width="1" height="1" fill="#c0c0c0"/>
<rect x="323" y="638" width="1" height="2" fill="#c0c0c0"/>
<rect x="331" y="638" width="1" height="1" fill="#c0c0c0"/>
<rect x="339" y="635" width="1" height="4" fill="#c0c0c0"/>
<rect x="347" y="633" width="1" height="6" fill="#c0c0c0"/>
<rect x="355" y="632" width="1" height="7" fill="#c0c0c0"/>
<rect x="363" y="633" width="1" height="6" fill="#c0c0c0"/>
<rect x="371" y="633" width="1" height="6" fill="#c0c0c0"/>
<rect x="379" y="632" width="1" height="7" fill="#c0c0c0"/>
<rect x="387" y="631" width="1" height="8" fill="#c0c0c0"/>
<rect x="395" y="630" width="1" height="9" fill="#c0c0c0"/>
<rect x="403" y="631" width="1" height="8" fill="#c0c0c0"/>
<rect x="411" y="636" width="1" height="3" fill="#c0c0c0"/>
<rect x="419" y="638" width="1" height="1" fill="#c0c0c0"/>
<rect x="427" y="638" width="1" height="1" fill="#c0c0c0"/>
<rect x="435" y="638" width="1" height="4" fill="#c0c0c0"/>
<rect x="443" y="638" width="1" height="5" fill="#c0c0c0"/>
<rect x="451" y="638" width="1" height="4" fill="#c0c0c0"/>
<rect x="459" y="638" width="1" height="2" fill="#c0c0c0"/>
<rect x="467" y="638" width="1" height="7" fill="#c0c0c0"/>
<rect x="475" y="638" width="1" height="6" fill="#c0c0c0"/>
<rect x="483" y="638" width="1" height="6" fill="#c0c0c0"/>
<rect x="491" y="638" width="1" height="6" fill="#c0c0c0"/>
<rect x="499" y="638" width="1" height="8" fill="#c0c0c0"/>
<rect x="507" y="638" width="1" height="10" fill="#c0c0c0"/>
<rect x="515" y="638" width="1" height="10" fill="#c0c0c0"/>
<rect x="523" y="638" width="1" height="9" fill="#c0c0c0"/>
<rect x="531" y="638" width="1" height="8" fill="#c0c0c0"/>
<rect x="539" y="638" width="1" height="5" fill="#c0c0c0"/>
<rect x="547" y="638" width="1" height="3" fill="#c0c0c0"/>
<rect x="555" y="638" width="1" height="1" fill="#c0c0c0"/>
<rect x="563" y="638" width="1" height="1" fill="#c0c0c0"/>
<rect x="571" y="638" width="1" height="1" fill="#c0c0c0"/>
<rect x="579" y="635" width="1" height="4" fill="#c0c0c0"/>
<rect x="587" y="632" width="1" height="7" fill="#c0c0c0"/>
<rect x="595" y="629" width="1" height="10" fill="#c0c0c0"/>
<rect x="603" y="627" width="1" height="12" fill="#c0c0c0"/>
<rect x="611" y="628" width="1" height="11" fill="#c0c0c0"/>
<rect x="619" y="629" width="1" height="10" fill="#c0c0c0"/>
<rect x="627" y="632" width="1" height="7" fill="#c0c0c0"/>
<rect x="635" y="637" width="1" height="2" fill="#c0c0c0"/>
<rect x="643" y="638" width="1" height="11" fill="#c0c0c0"/>
<rect x="651" y="638" width="1" height="20" fill="#c0c0c0"/>
<rect x="659" y="638" width="1" height="26" fill="#c0c0c0"/>
<rect x="667" y="638" width="1" height="34" fill="#c0c0c0"/>
<rect x="675" y="638" width="1" height="36" fill="#c0c0c0"/>
<rect x="683" y="638" width="1" height="39" fill="#c0c0c0"/>
<rect x="691" y="638" width="1" height="44" fill="#c0c0c0"/>
<rect x="699" y="638" width="1" height="48" fill="#c0c0c0"/>
<rect x="707" y="638" width="1" height="55" fill="#c0c0c0"/>
<rect x="715" y="638" width="1" height="57" fill="#c0c0c0"/>
<rect x="723" y="638" width="1" height="62" fill="#c0c0c0"/>
<rect x="731" y="638" width="1" height="71" fill="#c0c0c0"/>
<rect x="739" y="638" width="1" height="74" fill="#c0c0c0"/>
<rect x="747" y="638" width="1" height="77" fill="#c0c0c0"/>
<rect x="755" y="638" width="1" height="83" fill="#c0c0c0"/>
<rect x="763" y="638" width="1" height="88" fill="#c0c0c0"/>
<rect x="771" y="638" width="1" height="100" fill="#c0c0c0"/>
<rect x="779" y="638" width="1" height="105" fill="#c0c0c0"/>
<rect x="787" y="638" width="1" height="105" fill="#c0c0c0"/>
<rect x="795" y="638" width="1" height="105" fill="#c0c0c0"/>
<rect x="803" y="638" width="1" height="103" fill="#c0c0c0"/>
<rect x="811" y="638" width="1" height="94" fill="#c0c0c0"/>
<rect x="819" y="638" width="1" height="85" fill="#c0c0c0"/>
<rect x="827" y="638" width="1" height="74" fill="#c0c0c0"/>
<rect x="835" y="638" width="1" height="60" fill="#c0c0c0"/>
<rect x="843" y="638" width="1" height="50" fill="#c0c0c0"/>
<rect x="851" y="638" width="1" height="43" fill="#c0c0c0"/>
<rect x="859" y="638" width="1" height="37" fill="#c0c0c0"/>
<rect x="867" y="638" width="1" height="33" fill="#c0c0c0"/>
<rect x="875" y="638" width="1" height="27" fill="#c0c0c0"/>
<rect x="883" y="638" width="1" height="25" fill="#c0c0c0"/>
<rect x="891" y="638" width="1" height="23" fill="#c0c0c0"/>
<rect x="899" y="638" width="1" height="19" fill="#c0c0c0"/>
<rect x="907" y="638" width="1" height="15" fill="#c0c0c0"/>
<rect x="915" y="638" width="1" height="9" fill="#c0c0c0"/>
<rect x="923" y="638" width="1" height="5" fill="#c0c0c0"/>
<rect x="931" y="638" width="1" height="1" fill="#c0c0c0"/>
<rect x="939" y="637" width="1" height="2" fill="#c0c0c0"/>
<rect x="947" y="634" width="1" height="5" fill="#c0c0c0"/>
<rect x="955" y="633" width="1" height="6" fill="#c0c0c0"/>
<rect x="963" y="632" width="1" height="7" fill="#c0c0c0"/>
<rect x="971" y="633" width="1" height="6" fill="#c0c0c0"/>
<rect x="979" y="634" width="1" height="5" fill="#c0c0c0"/>
<rect x="987" y="636" width="1" height="3" fill="#c0c0c0"/>
<rect x="995" y="638" width="1" height="1" fill="#c0c0c0"/>
<rect x="1003" y="638" width="1" height="3" fill="#c0c0c0"/>
<rect x="1011" y="638" width="1" height="5" fill="#c0c0c0"/>
<rect x="1019" y="638" width="1" height="7" fill="#c0c0c0"/>
<rect x="1027" y="638" width="1" height="8" fill="#c0c0c0"/>
<rect x="1035" y="638" width="1" height="8" fill="#c0c0c0"/>
<rect x="1043" y="638" width="1" height="9" fill="#c0c0c0"/>
<rect x="1051" y="638" width="1" height="10" fill="#c0c0c0"/>
<rect x="1059" y="638" width="1" height="5" fill="#c0c0c0"/>
<rect x="1067" y="638" width="1" height="5" fill="#c0c0c0"/>
<rect x="1075" y="638" width="1" height="6" fill="#c0c0c0"/>
<rect x="1083" y="638" width="1" height="7" fill="#c0c0c0"/>
<rect x="1091" y="638" width="1" height="9" fill="#c0c0c0"/>
<rect x="1099" y="638" width="1" height="14" fill="#c0c0c0"/>
<rect x="1107" y="638" width="1" height="16" fill="#c0c0c0"/>
<rect x="1115" y="638" width="1" height="15" fill="#c0c0c0"/>
<rect x="1123" y="638" width="1" height="14" fill="#c0c0c0"/>
<rect x="1131" y="638" width="1" height="13" fill="#c0c0c0"/>
<rect x="1139" y="638" width="1" height="15" fill="#c0c0c0"/>
<rect x="1147" y="638" width="1" height="18" fill="#c0c0c0"/>
<rect x="1155" y="638" width="1" height="19" fill="#c0c0c0"/>
<rect x="1163" y="638" width="1" height="22" fill="#c0c0c0"/>
<rect x="1171" y="638" width="1" height="26" fill="#c0c0c0"/>
<rect x="1179" y="638" width="1" height="25" fill="#c0c0c0"/>
<rect x="1187" y="638" width="1" height="21" fill="#c0c0c0"/>
<rect x="1195" y="638" width="1" height="20" fill="#c0c0c0"/>
<rect x="1203" y="638" width="1" height="19" fill="#c0c0c0"/>
<rect x="1211" y="638" width="1" height="18" fill="#c0c0c0"/>
<rect x="1219" y="638" width="1" height="17" fill="#c0c0c0"/>
<rect x="1227" y="638" width="1" height="15" fill="#c0c0c0"/>
<rect x="1235" y="638" width="1" height="11" fill="#c0c0c0"/>
<rect x="1243" y="638" width="1" height="9" fill="#c0c0c0"/>
<rect x="1251" y="638" width="1" height="7" fill="#c0c0c0"/>
<rect x="1259" y="638" width="1" height="4" fill="#c0c0c0"/>
<rect x="1267" y="638" width="1" height="1" fill="#c0c0c0"/>
<rect x="1275" y="634" width="1" height="5" fill="#c0c0c0"/>
<rect x="1283" y="624" width="1" height="15" fill="#c0c0c0"/>
<rect x="1291" y="616" width="1" height="23" fill="#c0c0c0"/>
<rect x="1299" y="608" width="1" height="31" fill="#c0c0c0"/>
<rect x="1307" y="600" width="1" height="39" fill="#c0c0c0"/>
<rect x="1315" y="592" width="1" height="47" fill="#c0c0c0"/>
<rect x="1323" y="590" width="1" height="49" fill="#c0c0c0"/>
<rect x="1331" y="592" width="1" height="47" fill="#c0c0c0"/>
<rect x="1339" y="596" width="1" height="43" fill="#c0c0c0"/>
<rect x="1347" y="603" width="1" height="36" fill="#c0c0c0"/>
<rect x="1355" y="610" width="1" height="29" fill="#c0c0c0"/>
<rect x="1363" y="616" width="1" height="23" fill="#c0c0c0"/>
<rect x="1371" y="616" width="1" height="23" fill="#c0c0c0"/>
<rect x="1379" y="619" width="1" height="20" fill="#c0c0c0"/>
<rect x="1387" y="623" width="1" height="16" fill="#c0c0c0"/>
<rect x="1395" y="630" width="1" height="9" fill="#c0c0c0"/>
<rect x="1403" y="638" width="1" height="1" fill="#c0c0c0"/>
<rect x="1411" y="638" width="1" height="6" fill="#c0c0c0"/>
<rect x="1419" y="638" width="1" height="6" fill="#c0c0c0"/>
<rect x="1427" y="638" width="1" height="8" fill="#c0c0c0"/>
<rect x="1435" y="638" width="1" height="9" fill="#c0c0c0"/>
</g>
<polyline points="0.0,622.5 35.5,623.2 50.8,622.0 67.3,619.4 83.8,616.9 101.5,614.4 111.7,611.8 121.9,608.0 132.0,605.5 147.2,602.9 165.0,602.4 175.2,604.2 187.9,609.3 200.6,615.6 218.3,625.3 236.1,629.1 253.9,631.4 279.3,632.9 304.6,635.9 327.5,637.5 342.7,636.7 360.5,634.7 380.8,633.4 401.1,631.4 416.3,631.4 429.0,633.9 440.3,634.6 465.7,638.9 488.5,642.2 513.9,644.7 539.3,645.2 562.2,643.5 582.5,640.9 597.7,637.1 612.9,633.3 628.2,631.5 643.4,632.0 656.1,637.1 673.9,647.3 691.6,661.2 709.4,673.9 724.6,682.8 742.4,693.0 760.2,704.4 775.4,714.6 790.7,724.7 805.9,731.6 818.6,734.4 831.3,731.0 840.0,726.0 850.2,718.4 865.4,703.1 885.7,682.8 903.5,668.9 923.8,658.2 946.6,647.3 966.9,639.7 984.7,634.6 1005.0,634.1 1017.7,635.9 1027.9,638.4 1050.7,642.2 1068.5,644.2 1083.7,644.2 1106.6,646.5 1132.0,648.0 1149.7,650.6 1167.5,654.9 1180.2,656.2 1200.5,656.9 1215.7,658.7 1228.4,656.9 1243.7,654.9 1258.9,649.8 1273.6,646.3 1287.3,640.0 1300.9,633.2 1314.6,622.3 1328.2,612.8 1339.1,605.1 1347.3,601.3 1358.3,599.9 1371.9,601.0 1382.8,604.0 1393.7,610.0 1407.4,618.2 1421.0,626.4 1431.9,631.9" fill="none" stroke="#ff0000" stroke-width="1" shape-rendering="crispEdges" stroke-dasharray="3 3"/>
<text class="ax" x="1690" y="591" textLength="22.5" lengthAdjust="spacingAndGlyphs">1.894</text>
<text class="ax" x="1690" y="642" textLength="17.5" lengthAdjust="spacingAndGlyphs">0.00</text>
<text class="ax" x="1690" y="747" textLength="30.5" lengthAdjust="spacingAndGlyphs">-3.7183</text>
<g shape-rendering="crispEdges"><rect x="1687" y="638" width="2" height="1" fill="#000"/><rect x="1687" y="582" width="2" height="1" fill="#000"/><rect x="1687" y="749" width="2" height="1" fill="#000"/><rect x="1687" y="754" width="2" height="1" fill="#000"/><rect x="1687" y="925" width="1" height="1" fill="#000"/></g>
<text class="ax" x="0" y="593" textLength="130.0" lengthAdjust="spacingAndGlyphs">MACD(12,26,9) -0.2764 0.1683</text>
<g shape-rendering="crispEdges" fill="#c0c0c0">
<line x1="2" y1="788.5" x2="1686" y2="788.5" stroke="#c0c0c0" stroke-width="1" stroke-dasharray="3 3"/>
<line x1="2" y1="839.5" x2="1686" y2="839.5" stroke="#c0c0c0" stroke-width="1" stroke-dasharray="3 3"/>
<line x1="2" y1="900.5" x2="1686" y2="900.5" stroke="#c0c0c0" stroke-width="1" stroke-dasharray="3 3"/>
</g>
<polyline points="-4.5,824.0 3.5,816.5 11.5,816.5 19.5,813.5 27.5,817.3 35.5,824.4 43.5,822.4 51.5,806.4 59.5,803.3 67.5,812.2 75.5,811.4 83.5,810.4 91.5,810.4 99.5,805.1 107.5,781.2 115.5,804.6 123.5,803.3 131.5,812.2 139.5,830.0 147.5,833.3 155.5,842.7 163.5,841.4 171.5,842.7 179.5,849.5 187.5,851.5 195.5,846.5 203.5,838.9 211.5,831.2 219.5,831.2 227.5,837.1 235.5,826.2 243.5,825.4 251.5,839.4 259.5,853.6 267.5,853.6 275.5,837.1 283.5,847.2 291.5,836.3 299.5,835.0 307.5,835.0 315.5,837.6 323.5,837.6 331.5,835.0 339.5,833.3 347.5,825.4 355.5,834.3 363.5,834.3 371.5,835.6 379.5,833.3 387.5,824.4 395.5,831.2 403.5,841.9 411.5,850.8 419.5,848.2 427.5,850.3 435.5,852.8 443.5,844.7 451.5,837.1 459.5,838.9 467.5,858.4 475.5,840.6 483.5,839.4 491.5,845.2 499.5,852.3 507.5,854.6 515.5,847.7 523.5,841.9 531.5,840.1 539.5,831.2 547.5,832.5 555.5,830.5 563.5,836.3 571.5,835.6 579.5,825.4 587.5,820.6 595.5,814.2 603.5,819.8 611.5,837.6 619.5,835.6 627.5,846.5 635.5,857.9 643.5,879.5 651.5,879.5 659.5,871.4 667.5,878.2 675.5,862.5 683.5,868.0 691.5,872.4 699.5,875.7 707.5,881.5 715.5,872.6 723.5,879.5 731.5,887.6 739.5,873.1 747.5,876.9 755.5,883.3 763.5,883.3 771.5,893.4 779.5,877.4 787.5,872.6 795.5,874.4 803.5,872.6 811.5,854.8 819.5,853.3 827.5,843.4 835.5,835.6 843.5,839.4 851.5,840.6 859.5,841.4 867.5,845.2 875.5,838.9 883.5,844.4 891.5,844.4 899.5,840.1 907.5,836.3 915.5,830.5 923.5,830.5 931.5,830.5 939.5,832.5 947.5,828.2 955.5,833.3 963.5,833.3 971.5,837.6 979.5,836.3 987.5,841.9 995.5,854.8 1003.5,851.0 1011.5,849.5 1019.5,852.8 1027.5,849.5 1035.5,845.7 1043.5,850.3 1051.5,848.2 1059.5,826.2 1067.5,842.7 1075.5,846.5 1083.5,848.2 1091.5,850.3 1099.5,863.5 1107.5,855.4 1115.5,847.2 1123.5,843.4 1131.5,844.4 1139.5,854.8 1147.5,859.2 1155.5,853.6 1163.5,863.5 1171.5,866.8 1179.5,851.0 1187.5,840.1 1195.5,844.4 1203.5,845.7 1211.5,850.3 1219.5,846.5 1227.5,845.2 1235.5,834.3 1243.5,837.6 1251.5,834.5 1259.5,831.7 1267.5,830.5 1275.5,818.6 1283.5,802.3 1291.5,802.3 1299.5,799.0 1307.5,793.6 1315.5,791.4 1323.5,809.1 1331.5,819.2 1339.5,829.1 1347.5,841.9 1355.5,843.3 1363.5,841.9 1371.5,830.4 1379.5,835.6 1387.5,843.8 1395.5,852.3 1403.5,856.9 1411.5,858.3 1419.5,843.3 1427.5,846.0 1435.5,848.2" fill="none" stroke="#1e90ff" stroke-width="1" shape-rendering="crispEdges" />
<text class="ax" x="1690" y="763" textLength="15.0" lengthAdjust="spacingAndGlyphs">100</text>
<text class="ax" x="1690" y="792" textLength="10.0" lengthAdjust="spacingAndGlyphs">80</text>
<text class="ax" x="1690" y="843" textLength="10.0" lengthAdjust="spacingAndGlyphs">50</text>
<text class="ax" x="1690" y="904" textLength="10.0" lengthAdjust="spacingAndGlyphs">15</text>
<text class="ax" x="1690" y="923" textLength="5.0" lengthAdjust="spacingAndGlyphs">0</text>
<text class="ax" x="0" y="765" textLength="67.3" lengthAdjust="spacingAndGlyphs">RSI(14) 44.8219</text>
<g shape-rendering="crispEdges">
<rect x="59" y="927" width="1" height="3" fill="#000"/>
<rect x="123" y="927" width="1" height="3" fill="#000"/>
<rect x="187" y="927" width="1" height="3" fill="#000"/>
<rect x="251" y="927" width="1" height="3" fill="#000"/>
<rect x="315" y="927" width="1" height="3" fill="#000"/>
<rect x="379" y="927" width="1" height="3" fill="#000"/>
<rect x="443" y="927" width="1" height="3" fill="#000"/>
<rect x="507" y="927" width="1" height="3" fill="#000"/>
<rect x="571" y="927" width="1" height="3" fill="#000"/>
<rect x="635" y="927" width="1" height="3" fill="#000"/>
<rect x="699" y="927" width="1" height="3" fill="#000"/>
<rect x="763" y="927" width="1" height="3" fill="#000"/>
<rect x="827" y="927" width="1" height="3" fill="#000"/>
<rect x="891" y="927" width="1" height="3" fill="#000"/>
<rect x="955" y="927" width="1" height="3" fill="#000"/>
<rect x="1019" y="927" width="1" height="3" fill="#000"/>
<rect x="1083" y="927" width="1" height="3" fill="#000"/>
<rect x="1147" y="927" width="1" height="3" fill="#000"/>
<rect x="1211" y="927" width="1" height="3" fill="#000"/>
<rect x="1275" y="927" width="1" height="3" fill="#000"/>
<rect x="1339" y="927" width="1" height="3" fill="#000"/>
<rect x="1403" y="927" width="1" height="3" fill="#000"/>
</g>
<text class="ax" x="-6.5" y="939" textLength="54.3" lengthAdjust="spacingAndGlyphs">26 Nov 2019</text>
<text class="ax" x="57.5" y="939" textLength="46.5" lengthAdjust="spacingAndGlyphs">5 Dec 2019</text>
<text class="ax" x="121.5" y="939" textLength="51.6" lengthAdjust="spacingAndGlyphs">15 Dec 2019</text>
<text class="ax" x="185.5" y="939" textLength="51.6" lengthAdjust="spacingAndGlyphs">24 Dec 2019</text>
<text class="ax" x="249.5" y="939" textLength="45.0" lengthAdjust="spacingAndGlyphs">2 Jan 2020</text>
<text class="ax" x="313.5" y="939" textLength="50.1" lengthAdjust="spacingAndGlyphs">12 Jan 2020</text>
<text class="ax" x="377.5" y="939" textLength="50.1" lengthAdjust="spacingAndGlyphs">21 Jan 2020</text>
<text class="ax" x="441.5" y="939" textLength="50.1" lengthAdjust="spacingAndGlyphs">30 Jan 2020</text>
<text class="ax" x="505.5" y="939" textLength="46.0" lengthAdjust="spacingAndGlyphs">9 Feb 2020</text>
<text class="ax" x="569.5" y="939" textLength="51.1" lengthAdjust="spacingAndGlyphs">18 Feb 2020</text>
<text class="ax" x="633.5" y="939" textLength="51.1" lengthAdjust="spacingAndGlyphs">27 Feb 2020</text>
<text class="ax" x="697.5" y="939" textLength="47.6" lengthAdjust="spacingAndGlyphs">8 Mar 2020</text>
<text class="ax" x="761.5" y="939" textLength="52.8" lengthAdjust="spacingAndGlyphs">17 Mar 2020</text>
<text class="ax" x="825.5" y="939" textLength="52.8" lengthAdjust="spacingAndGlyphs">26 Mar 2020</text>
<text class="ax" x="889.5" y="939" textLength="44.0" lengthAdjust="spacingAndGlyphs">5 Apr 2020</text>
<text class="ax" x="953.5" y="939" textLength="49.1" lengthAdjust="spacingAndGlyphs">15 Apr 2020</text>
<text class="ax" x="1017.5" y="939" textLength="49.1" lengthAdjust="spacingAndGlyphs">24 Apr 2020</text>
<text class="ax" x="1081.5" y="939" textLength="49.1" lengthAdjust="spacingAndGlyphs">4 May 2020</text>
<text class="ax" x="1145.5" y="939" textLength="54.3" lengthAdjust="spacingAndGlyphs">13 May 2020</text>
<text class="ax" x="1209.5" y="939" textLength="54.3" lengthAdjust="spacingAndGlyphs">22 May 2020</text>
<text class="ax" x="1273.5" y="939" textLength="45.0" lengthAdjust="spacingAndGlyphs">1 Jun 2020</text>
<text class="ax" x="1337.5" y="939" textLength="50.1" lengthAdjust="spacingAndGlyphs">10 Jun 2020</text>
<text class="ax" x="1401.5" y="939" textLength="50.1" lengthAdjust="spacingAndGlyphs">19 Jun 2020</text>
<polygon points="0,36 2.5,32.5 5,36" fill="#000"/>
<text class="ax" x="10.4" y="37" textLength="209.6" lengthAdjust="spacingAndGlyphs">GBPJPY-,Daily&#160;&#160;133.280 133.605 132.668 132.909</text>
<polygon points="1442.5,26 1452.5,26 1447.5,31" fill="#c0c0c0"/>
<defs><linearGradient id="rg" gradientUnits="userSpaceOnUse" x1="0" y1="45" x2="0" y2="109"><stop offset="0" stop-color="#fa5252"/><stop offset="0.36" stop-color="#e23434"/><stop offset="0.7" stop-color="#c81a1a"/><stop offset="1" stop-color="#b20202"/></linearGradient>
<linearGradient id="bg" x1="0" y1="0" x2="0" y2="1"><stop offset="0" stop-color="#f4f4f4"/><stop offset="0.45" stop-color="#e8e8e8"/><stop offset="0.5" stop-color="#dcdcdc"/><stop offset="1" stop-color="#d0d0d0"/></linearGradient></defs>
<rect x="0" y="45" width="217" height="64" fill="#fff"/>
<g shape-rendering="crispEdges">
<path d="M0 45H50V69H107V109H0Z" fill="url(#rg)"/>
<path d="M109 69H165V45H217V109H109Z" fill="url(#rg)"/>
<rect x="0" y="45" width="50" height="1" fill="#c81414" opacity="0.8"/><rect x="49" y="45" width="1" height="24" fill="#b40a0a"/><rect x="106" y="69" width="1" height="40" fill="#a80606"/>
<rect x="165" y="45" width="52" height="1" fill="#c81414" opacity="0.8"/><rect x="165" y="45" width="1" height="24" fill="#b40a0a"/><rect x="216" y="45" width="1" height="64" fill="#a80606"/><rect x="109" y="69" width="1" height="40" fill="#b40a0a"/>
<rect x="0" y="108" width="107" height="1" fill="#a00000"/><rect x="109" y="108" width="108" height="1" fill="#a00000"/>
<rect x="2" y="68" width="44" height="1" fill="#9c0a0a"/><rect x="2" y="69" width="44" height="1" fill="#f06a6a"/>
<rect x="169" y="68" width="44" height="1" fill="#9c0a0a"/><rect x="169" y="69" width="44" height="1" fill="#f06a6a"/>
<rect x="52.5" y="45.5" width="110" height="21" fill="#fff" stroke="#a3a8ae" stroke-width="1"/>
<rect x="53.5" y="46.5" width="19" height="19" fill="url(#bg)" stroke="#f8f8f8" stroke-width="1"/>
<rect x="142.5" y="46.5" width="19" height="19" fill="url(#bg)" stroke="#f8f8f8" stroke-width="1"/>
<rect x="73" y="46" width="1" height="20" fill="#a3a8ae"/><rect x="141" y="46" width="1" height="20" fill="#a3a8ae"/>
</g>
<polygon points="60,54 65.4,54 62.7,57" fill="#4a62c4"/><polygon points="148.6,57 154,57 151.3,54" fill="#4a62c4"/>
<text x="138" y="60.3" text-anchor="end" style="font-family:'Liberation Sans',sans-serif;font-size:13px;fill:#000">1.00</text>
<text x="10.3" y="60.9" textLength="25.5" lengthAdjust="spacingAndGlyphs" style="font-family:'Liberation Sans',sans-serif;font-size:12.2px;fill:#fff">SELL</text>
<text x="178.8" y="60.9" textLength="22.8" lengthAdjust="spacingAndGlyphs" style="font-family:'Liberation Sans',sans-serif;font-size:12.2px;fill:#fff">BUY</text>
<text x="21.3" y="99.8" textLength="20.2" lengthAdjust="spacingAndGlyphs" style="font-family:'Liberation Sans',sans-serif;font-size:12px;font-weight:bold;fill:#fff;stroke:#fff;stroke-width:0.35">132</text>
<text x="45.6" y="100" textLength="34.2" lengthAdjust="spacingAndGlyphs" style="font-family:'Liberation Sans',sans-serif;font-size:35.5px;fill:#fff">90</text>
<text x="85" y="84.2" style="font-family:'Liberation Sans',sans-serif;font-size:12.2px;font-weight:bold;fill:#fff;stroke:#fff;stroke-width:0.3">9</text>
<text x="131.6" y="99.8" textLength="20.2" lengthAdjust="spacingAndGlyphs" style="font-family:'Liberation Sans',sans-serif;font-size:12px;font-weight:bold;fill:#fff;stroke:#fff;stroke-width:0.35">132</text>
<text x="155.9" y="100" textLength="34.2" lengthAdjust="spacingAndGlyphs" style="font-family:'Liberation Sans',sans-serif;font-size:35.5px;fill:#fff">96</text>
<text x="195.3" y="84.2" style="font-family:'Liberation Sans',sans-serif;font-size:12.2px;font-weight:bold;fill:#fff;stroke:#fff;stroke-width:0.3">2</text>
<defs>
<linearGradient id="gold" x1="0" y1="0.3" x2="1" y2="0.7"><stop offset="0" stop-color="#ffe870"/><stop offset="0.45" stop-color="#f0c020"/><stop offset="1" stop-color="#d89810"/></linearGradient>
<linearGradient id="grn" x1="0" y1="0" x2="0" y2="1"><stop offset="0" stop-color="#5ee05e"/><stop offset="1" stop-color="#0a9a0a"/></linearGradient>
<linearGradient id="blu" x1="0" y1="0" x2="0" y2="1"><stop offset="0" stop-color="#58b4ff"/><stop offset="1" stop-color="#1070e0"/></linearGradient>
<radialGradient id="lens" cx="0.4" cy="0.35" r="0.7"><stop offset="0" stop-color="#ffffff"/><stop offset="1" stop-color="#a8d0f4"/></radialGradient>
<linearGradient id="cld" x1="0" y1="0" x2="0" y2="1"><stop offset="0" stop-color="#ffffff"/><stop offset="1" stop-color="#c4d4ee"/></linearGradient>
</defs>
<rect x="-2" y="2.5" width="11" height="13" fill="#fff" stroke="#3a78c4" stroke-width="1.2"/>
<g stroke="#b8d0f0" stroke-width="1" shape-rendering="crispEdges"><line x1="0" y1="5.5" x2="8" y2="5.5"/><line x1="0" y1="7.5" x2="8" y2="7.5"/><line x1="0" y1="9.5" x2="8" y2="9.5"/></g>
<rect x="22.5" y="1.5" width="12" height="13" rx="1" fill="#f6f2ea" stroke="#b8a890" stroke-width="1"/>
<g stroke="#707070" stroke-width="1" fill="none"><path d="M25.5 3v8M31.5 3v7M24.5 7h2M30.5 5h2"/></g>
<line x1="34" y1="14" x2="39" y2="18" stroke="#c89818" stroke-width="2.4" stroke-linecap="round"/>
<circle cx="30.5" cy="10.3" r="5" fill="url(#lens)" fill-opacity="0.85" stroke="#5a90d8" stroke-width="1.2"/>
<rect x="47" y="0" width="1" height="19" fill="#a0a0a0" shape-rendering="crispEdges"/>
<path d="M58 1.5h7l3.5 3.5v9.5h-10.5z" fill="#fff" stroke="#808080" stroke-width="1"/><path d="M65 1.5v3.5h3.5" fill="#e8e8e8" stroke="#808080" stroke-width="0.8"/>
<g stroke="#909090" stroke-width="1" shape-rendering="crispEdges"><line x1="60" y1="4.5" x2="63" y2="4.5"/><line x1="60" y1="7.5" x2="66" y2="7.5"/><line x1="60" y1="9.5" x2="66" y2="9.5"/><line x1="60" y1="11.5" x2="64" y2="11.5"/></g>
<path d="M65 8h3.8v3.3h3.3v3.8h-3.3v3.3h-3.8v-3.3h-3.3v-3.8h3.3z" fill="url(#grn)" stroke="#0a8a0a" stroke-width="0.7"/>
<text class="cn" x="75.5" y="12.3" textLength="36.5" lengthAdjust="spacingAndGlyphs">新订单</text>
<path d="M124.200 10.800l8.200 5.400 7.800-5.800v1.400l-7.800 5.900-8.200-5.600z" fill="#b87c10" stroke="#8a5a06" stroke-width="0.500" stroke-linejoin="round"/>
<path d="M130.200 2.100l10 8.300-7.800 5.800-8.200-5.400c1.200-3.400 3.400-6.400 6-8.700z" fill="url(#gold)" stroke="#a06c08" stroke-width="0.800" stroke-linejoin="round"/>
<path d="M130.200 2.300c-1.800 1.800-3.800 4.600-5 7.600" stroke="#fff6b0" stroke-width="1" fill="none" opacity="0.9"/>
<path d="M154.5 1.5l4 2.5v8h-4z" fill="#3aa0ff" stroke="#1a70d8" stroke-width="0.6"/><path d="M158.5 4l7-2v8l-7 2z" fill="url(#blu)" stroke="#1a70d8" stroke-width="0.6"/><path d="M154.5 1.500l6.500-1 4.500 1.500-7 2z" fill="#7cc4ff" stroke="#1a70d8" stroke-width="0.5"/><path d="M160 6.500l4-1" stroke="#fff" stroke-width="0.9"/>
<path d="M155 16.500a2.800 2.800 0 0 1 -0.300-5.500a3 3 0 0 1 5-1.600a3.300 3.300 0 0 1 5.600 1.800a2.700 2.700 0 0 1 -0.300 5.300z" fill="url(#cld)" stroke="#4a6eb8" stroke-width="0.9"/>
<g fill="none" stroke-width="1.1"><path d="M188 1.800a7.300 7.300 0 0 0 0 14.600" stroke="#7aa0e0" opacity="0.8"/><path d="M188 4.300a4.800 4.800 0 0 0 0 9.600" stroke="#5a88d8"/><path d="M188 1.800a7.300 7.300 0 0 1 0 14.600" stroke="#7ab07a" opacity="0.9"/><path d="M188 4.300a4.800 4.800 0 0 1 0 9.600" stroke="#8abf8a"/></g>
<path d="M188 9v7.600a7.400 7.400 0 0 0 5.500-2.600z" fill="#58b058" opacity="0.85"/><line x1="188.3" y1="9" x2="188.3" y2="16.600" stroke="#18a018" stroke-width="1.3"/><circle cx="188" cy="9" r="2" fill="#2a5ed8"/>
<path d="M208.500 9.500h13.500l-6.800 7.300z" fill="#ffd838" stroke="#c89810" stroke-width="0.7"/>
<ellipse cx="215" cy="6" rx="7.800" ry="2.600" fill="#5aa8e0" stroke="#3a80c0" stroke-width="0.6"/><path d="M210.800 5.500c0-5.500 8.400-5.500 8.400 0z" fill="#6ab8ec" stroke="#3a80c0" stroke-width="0.6"/>
<circle cx="219.500" cy="12.600" r="4.100" fill="#e02810" stroke="#b01808" stroke-width="0.6"/><rect x="217.800" y="10.900" width="3.400" height="3.400" fill="#fff"/>
<text class="cn" x="228" y="12.300" textLength="47" lengthAdjust="spacingAndGlyphs">自动交易</text>
<g shape-rendering="crispEdges">
<rect x="286" y="1" width="3" height="1" fill="#a4a4a4"/>
<rect x="286" y="3" width="3" height="1" fill="#a4a4a4"/>
<rect x="286" y="5" width="3" height="1" fill="#a4a4a4"/>
<rect x="286" y="7" width="3" height="1" fill="#a4a4a4"/>
<rect x="286" y="9" width="3" height="1" fill="#a4a4a4"/>
<rect x="286" y="11" width="3" height="1" fill="#a4a4a4"/>
<rect x="286" y="13" width="3" height="1" fill="#a4a4a4"/>
<rect x="286" y="15" width="3" height="1" fill="#a4a4a4"/>
<rect x="286" y="17" width="3" height="1" fill="#a4a4a4"/>
</g>
<g stroke="#505050" stroke-width="1" fill="none" shape-rendering="crispEdges"><line x1="301.5" y1="4" x2="301.5" y2="17"/><line x1="299" y1="14.500" x2="311.5" y2="14.500"/></g>
<path d="M301.5 2.800l-1.600 2.400h3.200zM313 14.500l-2.400-1.600v3.200z" fill="#505050"/>
<g stroke="#129412" stroke-width="1.400" fill="none"><path d="M307.400 4.300v8.200M304.800 11.500h2.600M307.400 5.300h2.800"/></g>
<rect x="321" y="0" width="1" height="19" fill="#a0a0a0" shape-rendering="crispEdges"/>
<rect x="322" y="0" width="24" height="20" fill="#f8f8f8"/>
<g stroke="#505050" stroke-width="1" fill="none" shape-rendering="crispEdges"><line x1="329.5" y1="4" x2="329.5" y2="17"/><line x1="327" y1="14.500" x2="339.5" y2="14.500"/></g>
<path d="M329.5 2.800l-1.600 2.400h3.200zM341 14.500l-2.400-1.600v3.200z" fill="#505050"/>
<line x1="335.500" y1="1.500" x2="335.500" y2="13" stroke="#18a018" stroke-width="1"/><rect x="333.500" y="3.500" width="4" height="7" fill="#28c028" stroke="#108010" stroke-width="0.8"/>
<g stroke="#505050" stroke-width="1" fill="none" shape-rendering="crispEdges"><line x1="357.5" y1="4" x2="357.5" y2="17"/><line x1="355" y1="14.500" x2="367.5" y2="14.500"/></g>
<path d="M357.5 2.800l-1.600 2.400h3.200zM369 14.500l-2.400-1.600v3.200z" fill="#505050"/>
<path d="M356.200 11.800C358.500 9.600 360 6.500 362.100 6.500S365.500 9.400 367.800 10.100" stroke="#18a018" stroke-width="1.200" fill="none"/>
<rect x="378" y="0" width="1" height="19" fill="#a0a0a0" shape-rendering="crispEdges"/>
<line x1="397.2" y1="11.600" x2="401.5" y2="15.600" stroke="#a87408" stroke-width="3.400" stroke-linecap="round"/>
<line x1="397.2" y1="11.600" x2="401.5" y2="15.600" stroke="#f0d030" stroke-width="2" stroke-linecap="round"/>
<circle cx="393.2" cy="7" r="5.500" fill="#e2f5ff" stroke="#2a70cc" stroke-width="1.300"/>
<line x1="390.0" y1="7" x2="396.4" y2="7" stroke="#3a88b8" stroke-width="2.100"/>
<line x1="393.2" y1="3.800" x2="393.2" y2="10.200" stroke="#3a88b8" stroke-width="2.100"/>
<line x1="425.3" y1="11.600" x2="429.6" y2="15.600" stroke="#a87408" stroke-width="3.400" stroke-linecap="round"/>
<line x1="425.3" y1="11.600" x2="429.6" y2="15.600" stroke="#f0d030" stroke-width="2" stroke-linecap="round"/>
<circle cx="421.3" cy="7" r="5.500" fill="#e2f5ff" stroke="#2a70cc" stroke-width="1.300"/>
<line x1="418.1" y1="7" x2="424.5" y2="7" stroke="#3a88b8" stroke-width="2.100"/>
<g shape-rendering="crispEdges"><rect x="443" y="1" width="8" height="8" fill="#30a020"/><rect x="451" y="1" width="8" height="8" fill="#2058d0"/><rect x="443" y="9" width="8" height="8" fill="#2058d0"/><rect x="451" y="9" width="8" height="8" fill="#30a020"/></g>
<rect x="444.3" y="4.3" width="5.600" height="3.700" fill="#fff"/><rect x="445.2" y="5.4" width="3.800" height="0.900" fill="#a8dc98"/><rect x="444.3" y="2.2" width="0.900" height="0.900" fill="#fff" opacity="0.8"/><rect x="445.7" y="8" width="2.800" height="1" fill="#30a020"/>
<rect x="452.3" y="4.3" width="5.600" height="3.700" fill="#fff"/><rect x="453.2" y="5.4" width="3.800" height="0.900" fill="#98b0f0"/><rect x="452.3" y="2.2" width="0.900" height="0.900" fill="#fff" opacity="0.8"/><rect x="453.7" y="8" width="2.800" height="1" fill="#2058d0"/>
<rect x="444.3" y="12.3" width="5.600" height="3.700" fill="#fff"/><rect x="445.2" y="13.4" width="3.800" height="0.900" fill="#98b0f0"/><rect x="444.3" y="10.2" width="0.900" height="0.900" fill="#fff" opacity="0.8"/><rect x="445.7" y="16" width="2.800" height="1" fill="#2058d0"/>
<rect x="452.3" y="12.3" width="5.600" height="3.700" fill="#fff"/><rect x="453.2" y="13.4" width="3.800" height="0.900" fill="#a8dc98"/><rect x="452.3" y="10.2" width="0.900" height="0.900" fill="#fff" opacity="0.8"/><rect x="453.7" y="16" width="2.800" height="1" fill="#30a020"/>
<rect x="468" y="0" width="1" height="19" fill="#a0a0a0" shape-rendering="crispEdges"/>
<rect x="474" y="0" width="25" height="20" fill="#f8f8f8"/>
<rect x="473" y="0" width="1" height="19" fill="#a0a0a0" shape-rendering="crispEdges"/>
<g stroke="#505050" stroke-width="1" fill="none" shape-rendering="crispEdges"><line x1="481.5" y1="4" x2="481.5" y2="17"/><line x1="479" y1="14.500" x2="491.5" y2="14.500"/></g>
<path d="M481.5 2.800l-1.600 2.400h3.200zM493 14.500l-2.400-1.600v3.200z" fill="#505050"/>
<path d="M486.300 5.300l3.700 3.200-3.700 3.200z" fill="#50e070" stroke="#10a010" stroke-width="1"/>
<rect x="501" y="0" width="1" height="19" fill="#a0a0a0" shape-rendering="crispEdges"/>
<rect x="502" y="0" width="24" height="20" fill="#f8f8f8"/>
<g stroke="#505050" stroke-width="1" fill="none" shape-rendering="crispEdges"><line x1="509.5" y1="4" x2="509.5" y2="17"/><line x1="507" y1="14.500" x2="519.5" y2="14.500"/></g>
<path d="M509.5 2.800l-1.600 2.400h3.200zM521 14.500l-2.400-1.600v3.200z" fill="#505050"/>
<line x1="515.500" y1="3" x2="515.500" y2="13" stroke="#1870a8" stroke-width="1.200"/><path d="M521 8.500h-4" stroke="#e05010" stroke-width="1" fill="none"/><path d="M516.500 8.500l3-2.300-0.800 2.300 0.800 2.300z" fill="#e05010"/>
<rect x="530" y="0" width="1" height="19" fill="#a0a0a0" shape-rendering="crispEdges"/>
<path d="M541 1.500h6l3 3v9h-9z" fill="#fff" stroke="#808080" stroke-width="1"/><path d="M546 5c-1.600-0.800-2.400 0-2.400 1.500v5.500M542.300 8h3" stroke="#504030" stroke-width="0.900" fill="none"/>
<path d="M548.300 7h3.600v3.300h3.300v3.600h-3.300v3.300h-3.600v-3.300h-3.300v-3.600h3.300z" fill="url(#grn)" stroke="#0a8a0a" stroke-width="0.700"/>
<polygon points="562,8 567,8 564.5,11" fill="#000"/>
<circle cx="586" cy="9" r="7.500" fill="#2a80e8" stroke="#1450b0" stroke-width="0.800"/><circle cx="585.600" cy="8.200" r="6" fill="#58a8f8" opacity="0.55"/><circle cx="586" cy="8.800" r="4.700" fill="#eef3f8"/><path d="M585.600 5.500v3.700h2.800" stroke="#303030" stroke-width="1.100" fill="none"/><path d="M586 12.300v0.800M582.600 8.800h0.800" stroke="#7aa8e0" stroke-width="0.800"/>
<polygon points="601,8 606,8 603.5,11" fill="#000"/>
<rect x="617.500" y="2.500" width="15" height="13" fill="#fff" stroke="#3a78c4" stroke-width="1.200"/><rect x="617" y="2" width="16" height="2.500" fill="#4a88d4"/><line x1="618" y1="9.500" x2="632" y2="9.500" stroke="#3a78c4" stroke-width="0.800"/>
<path d="M619 8l3-1.500 2 1 3-2 2 1 2-1" stroke="#d03010" stroke-width="1.100" fill="none"/><path d="M619 13.500l3-1.500 2 1.500 3-2.500 2 2 2-1" stroke="#18a018" stroke-width="1.100" fill="none"/>
<polygon points="640,8 645,8 642.5,11" fill="#000"/>
<rect x="651" y="0" width="1" height="21" fill="#a8a8a8" shape-rendering="crispEdges"/><rect x="652" y="0" width="1" height="21" fill="#fafafa" shape-rendering="crispEdges"/>
<g shape-rendering="crispEdges">
<rect x="655" y="1" width="3" height="1" fill="#a4a4a4"/>
<rect x="655" y="3" width="3" height="1" fill="#a4a4a4"/>
<rect x="655" y="5" width="3" height="1" fill="#a4a4a4"/>
<rect x="655" y="7" width="3" height="1" fill="#a4a4a4"/>
<rect x="655" y="9" width="3" height="1" fill="#a4a4a4"/>
<rect x="655" y="11" width="3" height="1" fill="#a4a4a4"/>
<rect x="655" y="13" width="3" height="1" fill="#a4a4a4"/>
<rect x="655" y="15" width="3" height="1" fill="#a4a4a4"/>
<rect x="655" y="17" width="3" height="1" fill="#a4a4a4"/>
</g>
<rect x="661" y="0" width="1" height="19" fill="#a0a0a0" shape-rendering="crispEdges"/>
<rect x="662" y="0" width="24" height="20" fill="#f8f8f8"/>
<path d="M669 2v12l2.800-2.600 2.200 4.800 1.800-0.800-2.200-4.700h3.800z" fill="#404040"/>
<g stroke="#404040" stroke-width="1" shape-rendering="crispEdges"><line x1="701.500" y1="2" x2="701.500" y2="17"/><line x1="694" y1="9.500" x2="709" y2="9.500"/></g><rect x="701" y="9" width="1" height="1" fill="#f0f0f0"/>
<rect x="718" y="0" width="1" height="19" fill="#a0a0a0" shape-rendering="crispEdges"/>
<g stroke="#404040" stroke-width="1" shape-rendering="crispEdges"><line x1="735.500" y1="3" x2="735.500" y2="16"/><line x1="758" y1="9.500" x2="770" y2="9.500"/></g>
<line x1="786" y1="16" x2="797.500" y2="4" stroke="#505050" stroke-width="1.100"/>
<g stroke="#505050" stroke-width="1" fill="none"><line x1="812" y1="15.500" x2="826" y2="5.500"/><line x1="812" y1="11.500" x2="826" y2="1.500"/><line x1="814.500" y1="6" x2="814.500" y2="16"/><line x1="818.500" y1="4" x2="818.500" y2="14"/><line x1="822.500" y1="2" x2="822.500" y2="12"/></g>
<text x="823" y="17.500" style="font-family:'Liberation Sans',sans-serif;font-size:6.500px;font-weight:bold;fill:#404040">E</text>
<g stroke="#505050" stroke-width="1" stroke-dasharray="1 1" shape-rendering="crispEdges"><line x1="841" y1="2.500" x2="855" y2="2.500"/><line x1="841" y1="5.500" x2="855" y2="5.500"/><line x1="841" y1="9.500" x2="855" y2="9.500"/><line x1="841" y1="13.500" x2="850" y2="13.500"/></g>
<text x="851" y="17.500" style="font-family:'Liberation Sans',sans-serif;font-size:6.500px;font-weight:bold;fill:#404040">F</text>
<text x="871.500" y="13.700" style="font-family:'Liberation Sans',sans-serif;font-size:12.500px;fill:#606060;stroke:#606060;stroke-width:0.300">A</text>
<rect x="897.500" y="3.500" width="12" height="12" fill="none" stroke="#606060" stroke-width="1" stroke-dasharray="1 1" shape-rendering="crispEdges"/><text x="903.700" y="14.200" text-anchor="middle" style="font-family:'Liberation Sans',sans-serif;font-size:11.500px;font-weight:bold;fill:#585858">T</text>
<path d="M925.200 6.300l3-3 3 3h-1.800v1.600h-2.400v-1.600z" fill="#484848"/><path d="M932.400 12.300l3.200 3.400 3.200-3.400h-2v-1.500h-2.400v1.500z" fill="#484848"/><path d="M928.300 8.800l2 2.200 3.700-4.200" stroke="#484848" stroke-width="1.200" fill="none"/>
<polygon points="946,8 951,8 948.5,11" fill="#000"/>
<rect x="957" y="0" width="1" height="21" fill="#a8a8a8" shape-rendering="crispEdges"/><rect x="958" y="0" width="1" height="21" fill="#fafafa" shape-rendering="crispEdges"/>
<g shape-rendering="crispEdges">
<rect x="960" y="1" width="3" height="1" fill="#a4a4a4"/>
<rect x="960" y="3" width="3" height="1" fill="#a4a4a4"/>
<rect x="960" y="5" width="3" height="1" fill="#a4a4a4"/>
<rect x="960" y="7" width="3" height="1" fill="#a4a4a4"/>
<rect x="960" y="9" width="3" height="1" fill="#a4a4a4"/>
<rect x="960" y="11" width="3" height="1" fill="#a4a4a4"/>
<rect x="960" y="13" width="3" height="1" fill="#a4a4a4"/>
<rect x="960" y="15" width="3" height="1" fill="#a4a4a4"/>
<rect x="960" y="17" width="3" height="1" fill="#a4a4a4"/>
</g>
<rect x="1136" y="0" width="25" height="20" fill="#f8f8f8"/>
<rect x="1135" y="0" width="1" height="19" fill="#b8b8b8" shape-rendering="crispEdges"/>
<text class="tf" x="972" y="12.900" textLength="12.8" lengthAdjust="spacingAndGlyphs">M1</text>
<text class="tf" x="1000.7" y="12.900" textLength="12.8" lengthAdjust="spacingAndGlyphs">M5</text>
<text class="tf" x="1026.5" y="12.900" textLength="17" lengthAdjust="spacingAndGlyphs">M15</text>
<text class="tf" x="1054" y="12.900" textLength="18" lengthAdjust="spacingAndGlyphs">M30</text>
<text class="tf" x="1085.6" y="12.900" textLength="11.2" lengthAdjust="spacingAndGlyphs">H1</text>
<text class="tf" x="1112.6" y="12.900" textLength="12.1" lengthAdjust="spacingAndGlyphs">H4</text>
<text class="tf" x="1141.7" y="12.900" textLength="11.1" lengthAdjust="spacingAndGlyphs">D1</text>
<text class="tf" x="1169.2" y="12.900" textLength="13.8" lengthAdjust="spacingAndGlyphs">W1</text>
<text class="tf" x="1195.8" y="12.900" textLength="14.3" lengthAdjust="spacingAndGlyphs">MN</text>
<rect x="1218" y="0" width="1" height="21" fill="#a8a8a8" shape-rendering="crispEdges"/><rect x="1219" y="0" width="1" height="21" fill="#fafafa" shape-rendering="crispEdges"/>
<circle cx="1688.500" cy="6.500" r="4" fill="#f4f8ff" stroke="#2a62d0" stroke-width="1.700"/><line x1="1685.500" y1="9.800" x2="1681" y2="14.500" stroke="#2a62d0" stroke-width="2.200" stroke-linecap="round"/>
<ellipse cx="1721" cy="6.500" rx="6.500" ry="5" fill="#f4f4f4" stroke="#a0a0a0" stroke-width="1"/><path d="M1723 11l2.500 2.500-0.500-3z" fill="#a0a0a0"/>
<ellipse cx="1713" cy="10" rx="5.500" ry="4.200" fill="#fafafa" stroke="#a0a0a0" stroke-width="1"/><path d="M1711 13.500l-1.500 2.500 3.500-2z" fill="#a0a0a0"/>
</svg>
</body></html>
